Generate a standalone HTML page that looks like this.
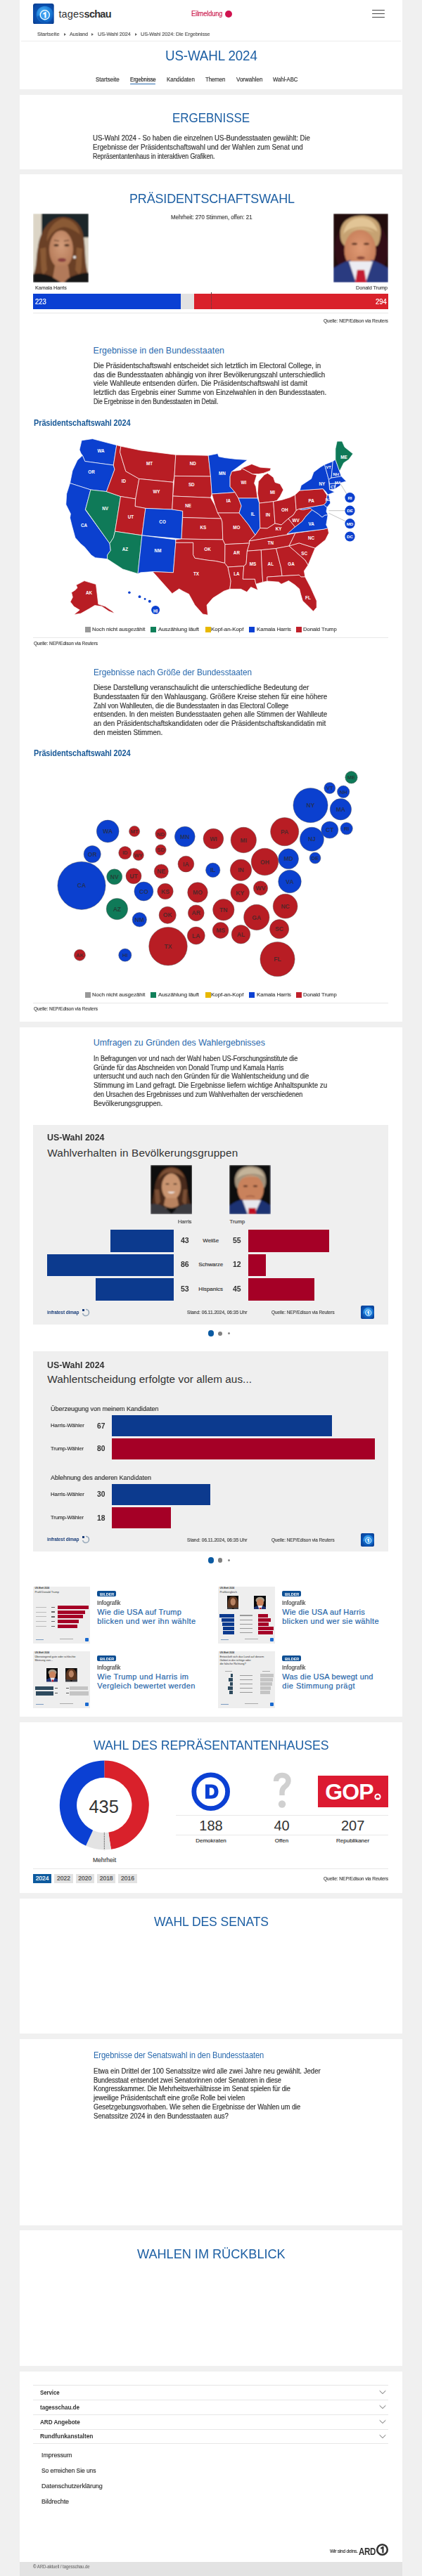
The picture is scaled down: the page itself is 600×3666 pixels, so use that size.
<!DOCTYPE html>
<html><head><meta charset="utf-8"><title>US-Wahl 2024: Die Ergebnisse</title>
<style>
html,body{margin:0;padding:0}
body{width:600px;height:3666px;position:relative;overflow:hidden;background:#f0f0f0;font-family:"Liberation Sans", sans-serif}
span{position:absolute;white-space:nowrap;line-height:1}
.k{-webkit-text-stroke:0.18px currentColor}
svg{position:absolute;display:block}
</style></head><body>
<div style="position:absolute;left:28px;top:0px;width:544px;height:127px;background:#fff;"></div>
<div style="position:absolute;left:28px;top:135px;width:544px;height:106px;background:#fff;"></div>
<div style="position:absolute;left:28px;top:248px;width:544px;height:1206px;background:#fff;"></div>
<div style="position:absolute;left:28px;top:1462px;width:544px;height:981px;background:#fff;"></div>
<div style="position:absolute;left:28px;top:2451px;width:544px;height:243px;background:#fff;"></div>
<div style="position:absolute;left:28px;top:2702px;width:544px;height:192px;background:#fff;"></div>
<div style="position:absolute;left:28px;top:2902px;width:544px;height:265px;background:#fff;"></div>
<div style="position:absolute;left:28px;top:3174px;width:544px;height:193px;background:#fff;"></div>
<div style="position:absolute;left:28px;top:3375px;width:544px;height:271px;background:#fff;"></div>
<div style="position:absolute;left:28px;top:3646px;width:544px;height:20px;background:#e3e3e3;"></div>
<svg style="left:47.2px;top:4.8px" width="29.7" height="29.7" viewBox="0 0 30 30">
<defs><radialGradient id="gh" cx="0.5" cy="0.5" r="0.75"><stop offset="0" stop-color="#0d5cc0"/><stop offset="0.7" stop-color="#0a4aa5"/><stop offset="1" stop-color="#062f78"/></radialGradient>
<radialGradient id="qh" cx="0.4" cy="0.35" r="0.7"><stop offset="0" stop-color="#5cc0ff"/><stop offset="0.6" stop-color="#1f86e0"/><stop offset="1" stop-color="#0b56b8"/></radialGradient></defs>
<rect x="0" y="0" width="30" height="30" rx="3.3" fill="url(#gh)"/>
<circle cx="17" cy="16" r="12.2" fill="url(#qh)" opacity="0.9"/>
<path d="M6 19 C8 25 14 28 20 27 C14 25 10 22 8.5 17 Z" fill="#0a4aa5" opacity="0.6"/>
<circle cx="17" cy="16.4" r="6.8" fill="#3a9ef0"/>
<circle cx="17" cy="16.4" r="6.6" fill="none" stroke="#fff" stroke-width="1.3"/>
<path d="M14.3 14.2 L17.6 12.2 L18.8 12.2 L18.8 20.6 L16.6 20.6 L16.6 15.2 L14.9 16 Z" fill="#fff"/>
</svg>
<span style="left:119.6px;top:12.68px;font-size:14.5px;font-weight:700;color:#333;letter-spacing:-0.75px">schau</span>
<div style="position:absolute;left:319.5px;top:14.7px;width:10px;height:10px;border-radius:50%;background:#d0134f"></div>
<div style="position:absolute;left:529px;top:13.75px;width:17.700000000000045px;height:1.5px;background:#444;border-radius:1px"></div>
<div style="position:absolute;left:529px;top:18.95px;width:17.700000000000045px;height:1.5px;background:#444;border-radius:1px"></div>
<div style="position:absolute;left:529px;top:23.95px;width:17.700000000000045px;height:1.5px;background:#444;border-radius:1px"></div>
<div style="position:absolute;left:91.1px;top:46.5px;width:0;height:0;border-left:3.5px solid #666;border-top:2.5px solid transparent;border-bottom:2.5px solid transparent"></div>
<div style="position:absolute;left:130.0px;top:46.5px;width:0;height:0;border-left:3.5px solid #666;border-top:2.5px solid transparent;border-bottom:2.5px solid transparent"></div>
<div style="position:absolute;left:191.9px;top:46.5px;width:0;height:0;border-left:3.5px solid #666;border-top:2.5px solid transparent;border-bottom:2.5px solid transparent"></div>
<div style="position:absolute;left:30px;top:58px;width:540px;height:1px;background:#ececec;"></div>
<div style="position:absolute;left:184.8px;top:118.7px;width:36.69999999999999px;height:1.5999999999999943px;background:#2a6ab0;border-radius:1px"></div>
<svg style="left:47.4px;top:304px" width="79" height="98" viewBox="0 0 79 98" preserveAspectRatio="none">
<defs><filter id="bh1" x="-5%" y="-5%" width="110%" height="110%"><feGaussianBlur stdDeviation="0.9"/></filter><clipPath id="ch1"><rect width="100" height="100"/></clipPath></defs>
<g filter="url(#bh1)">
<defs><radialGradient id="fh1" cx="0.5" cy="0.4" r="0.6"><stop offset="0" stop-color="#d29c7a"/><stop offset="1" stop-color="#b57a58"/></radialGradient></defs>
<rect width="79" height="98" fill="#dcd5c6"/>
<rect x="12" y="0" width="67" height="34" fill="#1d2729"/>
<path d="M42 5 C58 5 69 15 72 34 C75 52 73 72 79 88 L79 98 L0 98 L0 88 C6 76 4 60 7 48 C10 24 24 5 42 5 Z" fill="#6b4026"/>
<path d="M42 7 C55 8 64 16 67 30 C60 24 52 20 44 19 C34 20 24 28 20 40 C18 30 26 12 42 7Z" fill="#8a5a36"/>
<path d="M10 50 C12 65 10 78 14 88 L20 80 C18 68 19 58 18 48Z M70 50 C68 65 71 78 66 88 L60 80 C62 68 61 58 62 48Z" fill="#8a5a36"/>
<ellipse cx="40" cy="51" rx="17" ry="27" fill="url(#fh1)"/>
<path d="M31 74 L50 74 L53 98 L27 98 Z" fill="#b27a5a"/>
<path d="M0 86 C10 84 22 86 30 92 L40 98 L0 98 Z" fill="#141318"/>
<path d="M79 84 C68 84 58 88 50 92 L44 98 L79 98 Z" fill="#141318"/>
<ellipse cx="33" cy="45" rx="3.5" ry="1.5" fill="#3a2418"/>
<ellipse cx="48" cy="45" rx="3.5" ry="1.5" fill="#3a2418"/>
<path d="M30 38 L37 39 M44 39 L51 38" stroke="#4a2a1a" stroke-width="1.2"/>
<ellipse cx="41" cy="66" rx="6" ry="2.8" fill="#8a4040"/>
<circle cx="59" cy="62" r="2" fill="#eee"/></g></svg>
<svg style="left:474.2px;top:304px" width="78" height="98" viewBox="0 0 78 98" preserveAspectRatio="none">
<defs><filter id="bt1" x="-5%" y="-5%" width="110%" height="110%"><feGaussianBlur stdDeviation="0.9"/></filter><clipPath id="ct1"><rect width="100" height="100"/></clipPath></defs>
<g filter="url(#bt1)">
<defs><radialGradient id="ft1" cx="0.5" cy="0.45" r="0.6"><stop offset="0" stop-color="#e09a74"/><stop offset="1" stop-color="#c27a56"/></radialGradient></defs>
<rect width="78" height="98" fill="#24090f"/>
<ellipse cx="40" cy="50" rx="38" ry="46" fill="#3a1018" opacity="0.7"/>
<path d="M10 32 C8 12 22 3 40 3 C58 3 69 12 67 30 C66 40 64 44 62 46 L16 46 C12 42 10 38 10 32 Z" fill="#c6a272"/>
<path d="M14 30 C20 18 50 14 63 26 C60 12 50 6 40 6 C26 6 16 14 14 30Z" fill="#e2c596"/>
<ellipse cx="38" cy="52" rx="22.5" ry="29" fill="url(#ft1)"/>
<path d="M17 30 C24 22 44 20 58 27 C50 18 30 17 17 30Z" fill="#d8b888"/>
<path d="M0 78 C8 72 18 68 24 66 L40 98 L0 98 Z" fill="#2a3a80"/>
<path d="M78 78 C70 72 60 68 54 66 L40 98 L78 98 Z" fill="#2a3a80"/>
<path d="M22 68 L56 68 L46 98 L32 98 Z" fill="#ececf2"/>
<path d="M34 80 L44 80 L47 98 L31 98 Z" fill="#c41e32"/>
<ellipse cx="30" cy="43" rx="4" ry="1.5" fill="#5a3020"/>
<ellipse cx="47" cy="43" rx="4" ry="1.5" fill="#5a3020"/>
<ellipse cx="39" cy="63" rx="6" ry="2.2" fill="#8a4a3a"/></g></svg>
<div style="position:absolute;left:47px;top:418.3px;width:209.5px;height:21.69999999999999px;background:#0b40d3;"></div>
<div style="position:absolute;left:256.5px;top:418.3px;width:19.69999999999999px;height:21.69999999999999px;background:#e2e2e2;"></div>
<div style="position:absolute;left:276.2px;top:418.3px;width:276.2px;height:21.69999999999999px;background:#d9212b;"></div>
<div style="position:absolute;left:299.5px;top:416px;width:0;height:24px;border-left:1px dotted #444"></div>
<div style="position:absolute;left:47px;top:444.5px;width:505.4px;height:1.0px;background:#e6e6e6;"></div>
<svg style="left:80px;top:615px" width="440" height="270" viewBox="0 0 440 270">
<polygon points="36.1,11.8 51.5,9.5 85.8,18.5 81.3,47.0 40.8,41.5 37.3,33.2 35.0,30.0 33.0,25.0" fill="#0b40cf" stroke="#fff" stroke-width="0.7" stroke-linejoin="round"/>
<polygon points="37.3,33.2 40.8,41.5 81.3,47.0 83.0,53.0 71.4,84.6 48.9,82.0 19.5,72.6 23.0,55.0 30.0,40.0" fill="#0b40cf" stroke="#fff" stroke-width="0.7" stroke-linejoin="round"/>
<polygon points="19.5,72.6 48.9,82.0 41.3,110.5 76.0,158.5 77.3,168.3 72.6,175.0 72.6,180.6 55.5,178.7 49.8,175.0 40.3,163.6 34.6,158.8 27.0,150.3 22.3,133.2 19.5,121.9 20.4,116.2 13.8,102.9 14.7,87.7" fill="#0b40cf" stroke="#fff" stroke-width="0.7" stroke-linejoin="round"/>
<polygon points="48.9,82.0 71.4,84.6 91.5,91.5 83.5,141.2 81.4,150.0 76.0,158.5 41.5,109.9" fill="#0f7a58" stroke="#fff" stroke-width="0.7" stroke-linejoin="round"/>
<polygon points="85.8,18.5 91.8,20.1 90.6,28.4 94.1,40.3 98.9,55.7 117.8,66.4 112.7,95.0 91.5,91.5 71.4,84.6 83.0,53.0 81.3,47.0" fill="#b81d24" stroke="#fff" stroke-width="0.7" stroke-linejoin="round"/>
<polygon points="91.8,20.1 120.0,25.9 169.8,32.2 168.0,62.4 166.4,71.3 117.8,66.4 98.9,55.7 94.1,40.3 90.6,28.4" fill="#b81d24" stroke="#fff" stroke-width="0.7" stroke-linejoin="round"/>
<polygon points="117.8,66.4 166.4,71.3 165.8,91.0 164.8,110.0 126.9,108.4 112.0,105.6 112.7,95.0" fill="#b81d24" stroke="#fff" stroke-width="0.7" stroke-linejoin="round"/>
<polygon points="91.5,91.5 112.7,95.0 112.0,105.6 126.9,108.4 121.9,146.9 83.5,141.2" fill="#b81d24" stroke="#fff" stroke-width="0.7" stroke-linejoin="round"/>
<polygon points="83.5,141.2 121.9,146.9 116.0,201.5 94.6,194.9 72.6,180.6 72.6,175.0 77.3,168.3 76.0,158.5 81.4,150.0" fill="#0f7a58" stroke="#fff" stroke-width="0.7" stroke-linejoin="round"/>
<polygon points="126.9,108.4 164.8,110.0 179.7,112.2 178.0,152.0 121.9,146.9" fill="#0b40cf" stroke="#fff" stroke-width="0.7" stroke-linejoin="round"/>
<polygon points="121.9,146.9 169.8,153.0 169.8,157.3 166.4,199.8 137.0,198.5 120.0,199.8 116.0,201.5" fill="#0b40cf" stroke="#fff" stroke-width="0.7" stroke-linejoin="round"/>
<polygon points="169.8,32.2 216.2,33.2 219.5,63.0 168.0,62.4" fill="#b81d24" stroke="#fff" stroke-width="0.7" stroke-linejoin="round"/>
<polygon points="168.0,62.4 219.5,63.0 221.2,88.0 219.5,93.3 165.8,91.0" fill="#b81d24" stroke="#fff" stroke-width="0.7" stroke-linejoin="round"/>
<polygon points="165.8,91.0 219.5,93.3 226.0,105.0 229.5,115.0 234.5,123.0 179.7,121.5 179.7,112.2 164.8,110.0" fill="#b81d24" stroke="#fff" stroke-width="0.7" stroke-linejoin="round"/>
<polygon points="179.7,121.5 234.5,123.0 236.0,128.0 236.8,153.0 178.0,152.0" fill="#b81d24" stroke="#fff" stroke-width="0.7" stroke-linejoin="round"/>
<polygon points="169.8,153.0 178.0,152.0 236.8,153.0 240.0,159.7 239.7,186.4 226.9,183.5 214.1,182.1 197.0,179.3 194.6,174.6 194.6,157.3 169.8,157.3" fill="#b81d24" stroke="#fff" stroke-width="0.7" stroke-linejoin="round"/>
<polygon points="169.8,157.3 194.6,157.3 194.6,174.6 197.0,179.3 214.1,182.1 226.9,183.5 239.7,186.4 244.0,192.0 248.2,212.0 246.8,223.3 238.3,226.2 222.7,236.1 214.1,246.1 215.5,260.3 208.4,258.9 197.0,246.1 188.5,230.4 180.0,226.2 174.7,223.0 164.8,229.7 151.5,214.8 137.0,198.5 166.4,199.8" fill="#b81d24" stroke="#fff" stroke-width="0.7" stroke-linejoin="round"/>
<polygon points="216.2,33.2 229.5,30.5 231.0,34.8 240.0,36.6 254.2,38.3 272.0,39.5 257.8,50.1 249.5,56.1 247.1,63.2 247.1,77.4 254.2,85.7 221.2,88.0 219.5,63.0" fill="#0b40cf" stroke="#fff" stroke-width="0.7" stroke-linejoin="round"/>
<polygon points="221.2,88.0 254.2,85.7 259.0,94.0 263.2,105.0 260.0,115.0 229.5,115.0 226.0,105.0" fill="#b81d24" stroke="#fff" stroke-width="0.7" stroke-linejoin="round"/>
<polygon points="229.5,115.0 260.0,115.0 273.2,131.5 283.0,146.5 276.0,153.0 274.2,155.0 274.8,158.0 240.0,159.7 236.8,153.0 236.0,128.0 234.5,123.0" fill="#b81d24" stroke="#fff" stroke-width="0.7" stroke-linejoin="round"/>
<polygon points="240.0,159.7 274.8,158.0 271.4,169.2 270.0,187.7 266.7,190.6 244.0,192.0 239.7,186.4" fill="#b81d24" stroke="#fff" stroke-width="0.7" stroke-linejoin="round"/>
<polygon points="244.0,192.0 266.7,190.6 265.3,209.1 282.4,209.1 283.8,216.2 286.6,224.8 276.7,220.5 271.0,227.6 262.5,223.3 246.8,223.3 248.2,212.0" fill="#b81d24" stroke="#fff" stroke-width="0.7" stroke-linejoin="round"/>
<polygon points="249.5,56.1 262.5,53.7 263.7,51.3 279.1,59.6 285.0,61.0 281.5,72.7 283.8,77.4 286.2,94.0 259.0,94.0 254.2,85.7 247.1,77.4 247.1,63.2" fill="#b81d24" stroke="#fff" stroke-width="0.7" stroke-linejoin="round"/>
<polygon points="263.7,51.3 277.9,45.4 289.8,50.1 305.2,51.3 304.0,54.9 294.5,58.4 287.4,59.6 279.1,59.6" fill="#b81d24" stroke="#fff" stroke-width="0.7" stroke-linejoin="round"/>
<polygon points="288.6,101.1 286.2,86.9 287.4,70.3 295.7,60.8 300.4,58.4 304.0,60.8 308.7,64.4 311.1,71.5 318.2,73.8 322.9,82.1 318.2,91.6 313.5,97.5 308.7,98.7" fill="#b81d24" stroke="#fff" stroke-width="0.7" stroke-linejoin="round"/>
<polygon points="259.0,94.0 286.2,94.0 288.6,101.1 289.8,136.5 283.0,146.5 273.2,131.5 260.0,115.0 263.2,105.0" fill="#0b40cf" stroke="#fff" stroke-width="0.7" stroke-linejoin="round"/>
<polygon points="288.6,101.1 308.7,98.7 311.0,130.0 300.0,137.0 289.8,136.5" fill="#b81d24" stroke="#fff" stroke-width="0.7" stroke-linejoin="round"/>
<polygon points="308.7,98.7 320.6,96.4 332.4,92.8 339.5,89.2 341.2,111.3 337.0,118.0 330.0,123.0 320.0,132.0 311.0,130.0" fill="#b81d24" stroke="#fff" stroke-width="0.7" stroke-linejoin="round"/>
<polygon points="283.0,146.5 289.8,136.5 300.0,137.0 311.0,130.0 320.0,132.0 330.0,123.0 339.5,134.9 328.0,146.0 274.2,155.0 276.0,153.0" fill="#b81d24" stroke="#fff" stroke-width="0.7" stroke-linejoin="round"/>
<polygon points="274.2,155.0 328.0,146.0 340.0,143.5 331.0,162.0 312.6,165.5 291.3,167.7 271.4,169.2 274.8,158.0" fill="#b81d24" stroke="#fff" stroke-width="0.7" stroke-linejoin="round"/>
<polygon points="271.4,169.2 291.3,167.7 292.5,195.0 293.7,213.4 283.8,216.2 282.4,209.1 265.3,209.1 266.7,190.6 270.0,187.7" fill="#b81d24" stroke="#fff" stroke-width="0.7" stroke-linejoin="round"/>
<polygon points="291.3,167.7 312.6,165.5 319.7,193.3 321.1,204.7 299.8,206.1 300.0,212.0 293.7,213.4 292.5,195.0" fill="#b81d24" stroke="#fff" stroke-width="0.7" stroke-linejoin="round"/>
<polygon points="312.6,165.5 331.0,162.0 353.8,182.0 358.1,189.0 352.4,197.6 353.8,206.0 348.1,206.1 345.3,203.3 321.1,204.7 319.7,193.3" fill="#b81d24" stroke="#fff" stroke-width="0.7" stroke-linejoin="round"/>
<polygon points="299.8,206.1 321.1,204.7 345.3,203.3 348.1,206.1 353.8,206.0 361.7,221.0 370.2,240.0 370.2,249.5 365.5,255.0 358.0,247.6 350.3,240.0 347.5,230.5 345.6,223.0 339.0,217.2 330.4,211.5 320.0,216.3 316.2,213.2 300.0,212.0" fill="#b81d24" stroke="#fff" stroke-width="0.7" stroke-linejoin="round"/>
<polygon points="331.0,162.0 345.3,157.8 368.0,165.0 358.1,189.0 353.8,182.0" fill="#b81d24" stroke="#fff" stroke-width="0.7" stroke-linejoin="round"/>
<polygon points="340.0,143.5 380.0,138.2 386.2,136.6 387.4,143.7 382.7,153.2 368.0,165.0 345.3,157.8 331.0,162.0" fill="#b81d24" stroke="#fff" stroke-width="0.7" stroke-linejoin="round"/>
<polygon points="328.0,145.0 339.5,134.9 349.5,127.0 354.5,120.0 363.7,110.5 372.0,116.0 378.0,121.0 382.0,118.0 386.2,117.7 383.8,131.9 386.2,136.6 380.0,138.2 340.0,143.0" fill="#0b40cf" stroke="#fff" stroke-width="0.7" stroke-linejoin="round"/>
<polygon points="341.2,111.3 344.7,109.4 350.7,110.5 361.3,108.2 363.7,110.5 354.5,120.0 349.5,127.0 339.5,134.9 330.0,123.0 337.0,118.0" fill="#b81d24" stroke="#fff" stroke-width="0.7" stroke-linejoin="round"/>
<polygon points="344.7,109.4 380.3,103.4 385.0,107.0 384.0,113.0 386.2,117.7 382.0,118.0 378.0,121.0 372.0,116.0 363.7,110.5 361.3,108.2 350.7,110.5" fill="#0b40cf" stroke="#fff" stroke-width="0.7" stroke-linejoin="round"/>
<polygon points="339.5,89.2 346.2,83.0 379.0,80.6 385.0,90.0 383.8,100.0 380.3,103.4 344.7,109.4 341.2,111.3" fill="#b81d24" stroke="#fff" stroke-width="0.7" stroke-linejoin="round"/>
<polygon points="385.0,90.0 387.4,89.2 389.8,101.0 385.0,107.0 380.3,103.4 383.8,100.0" fill="#0b40cf" stroke="#fff" stroke-width="0.7" stroke-linejoin="round"/>
<polygon points="346.2,83.0 348.3,75.8 362.5,66.4 366.0,56.9 375.5,49.8 381.5,46.2 387.4,67.5 388.6,81.8 395.7,85.3 386.2,89.0 382.7,84.0 379.0,80.6" fill="#0b40cf" stroke="#fff" stroke-width="0.7" stroke-linejoin="round"/>
<polygon points="381.5,46.2 393.3,41.5 391.0,65.2 387.4,67.5" fill="#0b40cf" stroke="#fff" stroke-width="0.7" stroke-linejoin="round"/>
<polygon points="393.3,41.5 396.9,39.1 402.8,55.7 405.2,62.8 391.0,65.2" fill="#0b40cf" stroke="#fff" stroke-width="0.7" stroke-linejoin="round"/>
<polygon points="396.9,39.1 396.9,23.7 399.2,13.0 406.4,13.0 410.0,21.3 421.8,30.8 415.8,39.1 408.7,43.8 402.8,55.7" fill="#0f7a58" stroke="#fff" stroke-width="0.7" stroke-linejoin="round"/>
<polygon points="387.4,67.5 391.0,65.2 405.2,62.8 412.3,69.9 404.0,72.3 397.0,73.0 388.6,73.5" fill="#0b40cf" stroke="#fff" stroke-width="0.7" stroke-linejoin="round"/>
<polygon points="388.6,73.5 397.0,73.0 396.0,81.0 388.6,81.8" fill="#0b40cf" stroke="#fff" stroke-width="0.7" stroke-linejoin="round"/>
<polygon points="397.0,73.0 404.0,72.3 404.0,75.8 396.0,81.0" fill="#0b40cf" stroke="#fff" stroke-width="0.7" stroke-linejoin="round"/>
<polygon points="28.3,217.6 39.9,211.6 56.5,216.6 59.8,244.8 69.7,248.1 79.7,254.8 83.0,258.1 74.7,254.8 64.8,248.1 54.8,246.5 46.5,251.5 34.9,258.1 25.0,259.7 33.2,253.1 25.0,248.1 20.0,241.5 23.3,234.9 21.6,228.2 26.6,224.9 30.0,221.6" fill="#b81d24" stroke="#fff" stroke-width="0.7" stroke-linejoin="round"/>
<circle cx="103.9" cy="228.20000000000005" r="1.8" fill="#0b40cf"/>
<circle cx="118.5" cy="234.20000000000005" r="1.9" fill="#0b40cf"/>
<circle cx="126.1" cy="237.5" r="1.4" fill="#0b40cf"/>
<circle cx="132.8" cy="240.79999999999995" r="2" fill="#0b40cf"/>
<circle cx="141.1" cy="253.10000000000002" r="6" fill="#0b40cf"/>
<path d="M404,73.5 L413.5,88.89999999999998 M387.4,111.70000000000005 L410.4,111.70000000000005 M387.4,115.29999999999995 L411,126.70000000000005" stroke="#999" stroke-width="0.6" fill="none"/>
<circle cx="417.5" cy="93.20000000000005" r="7.1" fill="#0b40cf"/>
<text x="417.5" y="95.50000000000004" font-size="6.2" font-weight="700" fill="#fff" text-anchor="middle" font-family="Liberation Sans">RI</text>
<circle cx="417.5" cy="111.70000000000005" r="7.1" fill="#0b40cf"/>
<text x="417.5" y="114.00000000000004" font-size="6.2" font-weight="700" fill="#fff" text-anchor="middle" font-family="Liberation Sans">DE</text>
<circle cx="417.5" cy="130.20000000000005" r="7.1" fill="#0b40cf"/>
<text x="417.5" y="132.50000000000006" font-size="6.2" font-weight="700" fill="#fff" text-anchor="middle" font-family="Liberation Sans">MD</text>
<circle cx="417.5" cy="148.5" r="7.1" fill="#0b40cf"/>
<text x="417.5" y="150.8" font-size="6.2" font-weight="700" fill="#fff" text-anchor="middle" font-family="Liberation Sans">DC</text>
<text x="63.5" y="28.7" font-size="6.3" font-weight="700" fill="#fff" text-anchor="middle" font-family="Liberation Sans">WA</text>
<text x="50" y="58.99999999999996" font-size="6.3" font-weight="700" fill="#fff" text-anchor="middle" font-family="Liberation Sans">OR</text>
<text x="39.599999999999994" y="134.59999999999997" font-size="6.3" font-weight="700" fill="#fff" text-anchor="middle" font-family="Liberation Sans">CA</text>
<text x="69.5" y="111.30000000000003" font-size="6.3" font-weight="700" fill="#fff" text-anchor="middle" font-family="Liberation Sans">NV</text>
<text x="96" y="72.2" font-size="6.3" font-weight="700" fill="#fff" text-anchor="middle" font-family="Liberation Sans">ID</text>
<text x="132.5" y="46.99999999999996" font-size="6.3" font-weight="700" fill="#fff" text-anchor="middle" font-family="Liberation Sans">MT</text>
<text x="142.5" y="86.80000000000003" font-size="6.3" font-weight="700" fill="#fff" text-anchor="middle" font-family="Liberation Sans">WY</text>
<text x="106" y="123.30000000000003" font-size="6.3" font-weight="700" fill="#fff" text-anchor="middle" font-family="Liberation Sans">UT</text>
<text x="151.1" y="129.90000000000003" font-size="6.3" font-weight="700" fill="#fff" text-anchor="middle" font-family="Liberation Sans">CO</text>
<text x="98" y="168.7" font-size="6.3" font-weight="700" fill="#fff" text-anchor="middle" font-family="Liberation Sans">AZ</text>
<text x="144.5" y="171.40000000000003" font-size="6.3" font-weight="700" fill="#fff" text-anchor="middle" font-family="Liberation Sans">NM</text>
<text x="194.2" y="46.99999999999996" font-size="6.3" font-weight="700" fill="#fff" text-anchor="middle" font-family="Liberation Sans">ND</text>
<text x="192.3" y="76.80000000000003" font-size="6.3" font-weight="700" fill="#fff" text-anchor="middle" font-family="Liberation Sans">SD</text>
<text x="187.60000000000002" y="106.7" font-size="6.3" font-weight="700" fill="#fff" text-anchor="middle" font-family="Liberation Sans">NE</text>
<text x="208.8" y="137.90000000000003" font-size="6.3" font-weight="700" fill="#fff" text-anchor="middle" font-family="Liberation Sans">KS</text>
<text x="215" y="168.7" font-size="6.3" font-weight="700" fill="#fff" text-anchor="middle" font-family="Liberation Sans">OK</text>
<text x="198.89999999999998" y="203.59999999999997" font-size="6.3" font-weight="700" fill="#fff" text-anchor="middle" font-family="Liberation Sans">TX</text>
<text x="235.8" y="60.7" font-size="6.3" font-weight="700" fill="#fff" text-anchor="middle" font-family="Liberation Sans">MN</text>
<text x="245" y="100.09999999999998" font-size="6.3" font-weight="700" fill="#fff" text-anchor="middle" font-family="Liberation Sans">IA</text>
<text x="256.4" y="137.90000000000003" font-size="6.3" font-weight="700" fill="#fff" text-anchor="middle" font-family="Liberation Sans">MO</text>
<text x="256.4" y="173.7" font-size="6.3" font-weight="700" fill="#fff" text-anchor="middle" font-family="Liberation Sans">AR</text>
<text x="256.4" y="203.59999999999997" font-size="6.3" font-weight="700" fill="#fff" text-anchor="middle" font-family="Liberation Sans">LA</text>
<text x="266.4" y="73.49999999999996" font-size="6.3" font-weight="700" fill="#fff" text-anchor="middle" font-family="Liberation Sans">WI</text>
<text x="307.5" y="88.09999999999998" font-size="6.3" font-weight="700" fill="#fff" text-anchor="middle" font-family="Liberation Sans">MI</text>
<text x="279.6" y="118.59999999999998" font-size="6.3" font-weight="700" fill="#fff" text-anchor="middle" font-family="Liberation Sans">IL</text>
<text x="300.9" y="119.99999999999996" font-size="6.3" font-weight="700" fill="#fff" text-anchor="middle" font-family="Liberation Sans">IN</text>
<text x="324.8" y="113.30000000000003" font-size="6.3" font-weight="700" fill="#fff" text-anchor="middle" font-family="Liberation Sans">OH</text>
<text x="316.1" y="139.90000000000003" font-size="6.3" font-weight="700" fill="#fff" text-anchor="middle" font-family="Liberation Sans">KY</text>
<text x="304.8" y="159.49999999999994" font-size="6.3" font-weight="700" fill="#fff" text-anchor="middle" font-family="Liberation Sans">TN</text>
<text x="279.6" y="190.3" font-size="6.3" font-weight="700" fill="#fff" text-anchor="middle" font-family="Liberation Sans">MS</text>
<text x="304.8" y="190.3" font-size="6.3" font-weight="700" fill="#fff" text-anchor="middle" font-family="Liberation Sans">AL</text>
<text x="334" y="190.3" font-size="6.3" font-weight="700" fill="#fff" text-anchor="middle" font-family="Liberation Sans">GA</text>
<text x="352.6" y="175.09999999999997" font-size="6.3" font-weight="700" fill="#fff" text-anchor="middle" font-family="Liberation Sans">SC</text>
<text x="362.6" y="152.99999999999994" font-size="6.3" font-weight="700" fill="#fff" text-anchor="middle" font-family="Liberation Sans">NC</text>
<text x="362.6" y="133.2" font-size="6.3" font-weight="700" fill="#fff" text-anchor="middle" font-family="Liberation Sans">VA</text>
<text x="340.7" y="127.90000000000005" font-size="6.3" font-weight="700" fill="#fff" text-anchor="middle" font-family="Liberation Sans">WV</text>
<text x="362.6" y="100.09999999999998" font-size="6.3" font-weight="700" fill="#fff" text-anchor="middle" font-family="Liberation Sans">PA</text>
<text x="377.8" y="75.49999999999996" font-size="6.3" font-weight="700" fill="#fff" text-anchor="middle" font-family="Liberation Sans">NY</text>
<text x="357.9" y="238.09999999999997" font-size="6.3" font-weight="700" fill="#fff" text-anchor="middle" font-family="Liberation Sans">FL</text>
<text x="46.5" y="231.09999999999997" font-size="6.3" font-weight="700" fill="#fff" text-anchor="middle" font-family="Liberation Sans">AK</text>
<text x="141.1" y="256.99999999999994" font-size="6.3" font-weight="700" fill="#fff" text-anchor="middle" font-family="Liberation Sans">HI</text>
<text x="409" y="38.300000000000026" font-size="6.3" font-weight="700" fill="#fff" text-anchor="middle" font-family="Liberation Sans">ME</text>
<text x="387.1" y="51.59999999999998" font-size="5.8" font-weight="700" fill="#fff" text-anchor="middle" font-family="Liberation Sans">VT</text>
<text x="397.7" y="61.59999999999998" font-size="5.8" font-weight="700" fill="#fff" text-anchor="middle" font-family="Liberation Sans">NH</text>
<text x="400.4" y="73.49999999999996" font-size="5.8" font-weight="700" fill="#fff" text-anchor="middle" font-family="Liberation Sans">MA</text>
<text x="393.8" y="80.2" font-size="5.8" font-weight="700" fill="#fff" text-anchor="middle" font-family="Liberation Sans">CT</text>
<text x="386.5" y="98.2" font-size="5.8" font-weight="700" fill="#fff" text-anchor="middle" font-family="Liberation Sans">NJ</text>
</svg>
<div style="position:absolute;left:120.5px;top:892.2px;width:8.0px;height:8.0px;background:#999;"></div>
<div style="position:absolute;left:214.2px;top:892.2px;width:8.0px;height:8.0px;background:#10805a;"></div>
<div style="position:absolute;left:292px;top:892.2px;width:8px;height:8.0px;background:#e8b800;"></div>
<div style="position:absolute;left:354px;top:892.2px;width:8px;height:8.0px;background:#0b40d3;"></div>
<div style="position:absolute;left:421px;top:892.2px;width:8px;height:8.0px;background:#c0202a;"></div>
<div style="position:absolute;left:47px;top:907.2px;width:505px;height:1.0px;background:#e8e8e8;"></div>
<svg style="left:80px;top:1085px" width="440" height="310" viewBox="0 0 440 310">
<circle cx="73.2" cy="98.0" r="15.9" fill="#0b40cf" stroke="#555" stroke-opacity="0.55" stroke-width="0.8"/>
<circle cx="111.1" cy="98.0" r="7.6" fill="#b81d24" stroke="#555" stroke-opacity="0.55" stroke-width="0.8"/>
<circle cx="148.6" cy="101.8" r="7.8" fill="#b81d24" stroke="#555" stroke-opacity="0.55" stroke-width="0.8"/>
<circle cx="51.2" cy="130.6" r="12.1" fill="#0b40cf" stroke="#555" stroke-opacity="0.55" stroke-width="0.8"/>
<circle cx="97.8" cy="128.7" r="9.1" fill="#b81d24" stroke="#555" stroke-opacity="0.55" stroke-width="0.8"/>
<circle cx="116.8" cy="132.0" r="7.6" fill="#b81d24" stroke="#555" stroke-opacity="0.55" stroke-width="0.8"/>
<circle cx="148.6" cy="124.5" r="7.6" fill="#b81d24" stroke="#555" stroke-opacity="0.55" stroke-width="0.8"/>
<circle cx="36.0" cy="175.3" r="34.1" fill="#0b40cf" stroke="#555" stroke-opacity="0.55" stroke-width="0.8"/>
<circle cx="82.7" cy="162.8" r="11" fill="#0f7a58" stroke="#555" stroke-opacity="0.55" stroke-width="0.8"/>
<circle cx="110.0" cy="161.7" r="11" fill="#b81d24" stroke="#555" stroke-opacity="0.55" stroke-width="0.8"/>
<circle cx="149.3" cy="155.0" r="10.1" fill="#b81d24" stroke="#555" stroke-opacity="0.55" stroke-width="0.8"/>
<circle cx="124.4" cy="183.5" r="13.5" fill="#0b40cf" stroke="#555" stroke-opacity="0.55" stroke-width="0.8"/>
<circle cx="86.4" cy="208.6" r="15.2" fill="#0f7a58" stroke="#555" stroke-opacity="0.55" stroke-width="0.8"/>
<circle cx="118.3" cy="223.8" r="10.2" fill="#0b40cf" stroke="#555" stroke-opacity="0.55" stroke-width="0.8"/>
<circle cx="33.4" cy="274.2" r="8" fill="#b81d24" stroke="#555" stroke-opacity="0.55" stroke-width="0.8"/>
<circle cx="97.8" cy="274.2" r="9.1" fill="#0b40cf" stroke="#555" stroke-opacity="0.55" stroke-width="0.8"/>
<circle cx="182.8" cy="105.6" r="14.4" fill="#0b40cf" stroke="#555" stroke-opacity="0.55" stroke-width="0.8"/>
<circle cx="223.4" cy="108.6" r="14.4" fill="#b81d24" stroke="#555" stroke-opacity="0.55" stroke-width="0.8"/>
<circle cx="266.3" cy="110.5" r="18.2" fill="#b81d24" stroke="#555" stroke-opacity="0.55" stroke-width="0.8"/>
<circle cx="184.4" cy="144.6" r="11.4" fill="#b81d24" stroke="#555" stroke-opacity="0.55" stroke-width="0.8"/>
<circle cx="222.7" cy="153.3" r="10.2" fill="#0b40cf" stroke="#555" stroke-opacity="0.55" stroke-width="0.8"/>
<circle cx="262.5" cy="153.3" r="15.2" fill="#b81d24" stroke="#555" stroke-opacity="0.55" stroke-width="0.8"/>
<circle cx="296.5" cy="141.5" r="19.3" fill="#b81d24" stroke="#555" stroke-opacity="0.55" stroke-width="0.8"/>
<circle cx="155.0" cy="183.5" r="11.2" fill="#b81d24" stroke="#555" stroke-opacity="0.55" stroke-width="0.8"/>
<circle cx="201.0" cy="185.0" r="14.3" fill="#b81d24" stroke="#555" stroke-opacity="0.55" stroke-width="0.8"/>
<circle cx="261.3" cy="185.5" r="13.3" fill="#b81d24" stroke="#555" stroke-opacity="0.55" stroke-width="0.8"/>
<circle cx="290.5" cy="179.0" r="10.2" fill="#b81d24" stroke="#555" stroke-opacity="0.55" stroke-width="0.8"/>
<circle cx="158.2" cy="217.3" r="12.1" fill="#b81d24" stroke="#555" stroke-opacity="0.55" stroke-width="0.8"/>
<circle cx="198.8" cy="214.3" r="11.4" fill="#b81d24" stroke="#555" stroke-opacity="0.55" stroke-width="0.8"/>
<circle cx="237.8" cy="209.7" r="15.2" fill="#b81d24" stroke="#555" stroke-opacity="0.55" stroke-width="0.8"/>
<circle cx="284.8" cy="220.5" r="18.2" fill="#b81d24" stroke="#555" stroke-opacity="0.55" stroke-width="0.8"/>
<circle cx="159.0" cy="261.7" r="27.3" fill="#b81d24" stroke="#555" stroke-opacity="0.55" stroke-width="0.8"/>
<circle cx="198.8" cy="246.5" r="12.5" fill="#b81d24" stroke="#555" stroke-opacity="0.55" stroke-width="0.8"/>
<circle cx="233.6" cy="239.0" r="11.4" fill="#b81d24" stroke="#555" stroke-opacity="0.55" stroke-width="0.8"/>
<circle cx="262.5" cy="244.7" r="13.3" fill="#b81d24" stroke="#555" stroke-opacity="0.55" stroke-width="0.8"/>
<circle cx="317.1" cy="237.2" r="13.6" fill="#b81d24" stroke="#555" stroke-opacity="0.55" stroke-width="0.8"/>
<circle cx="314.5" cy="280.0" r="24.6" fill="#b81d24" stroke="#555" stroke-opacity="0.55" stroke-width="0.8"/>
<circle cx="325.6" cy="204.7" r="17.4" fill="#b81d24" stroke="#555" stroke-opacity="0.55" stroke-width="0.8"/>
<circle cx="332.0" cy="169.5" r="16.3" fill="#0b40cf" stroke="#555" stroke-opacity="0.55" stroke-width="0.8"/>
<circle cx="330.1" cy="137.2" r="14.4" fill="#0b40cf" stroke="#555" stroke-opacity="0.55" stroke-width="0.8"/>
<circle cx="368.0" cy="136.1" r="8" fill="#0b40cf" stroke="#555" stroke-opacity="0.55" stroke-width="0.8"/>
<circle cx="419.5" cy="21.3" r="8.7" fill="#0f7a58" stroke="#555" stroke-opacity="0.55" stroke-width="0.8"/>
<circle cx="388.8" cy="36.5" r="8" fill="#0b40cf" stroke="#555" stroke-opacity="0.55" stroke-width="0.8"/>
<circle cx="408.2" cy="41.8" r="8.7" fill="#0b40cf" stroke="#555" stroke-opacity="0.55" stroke-width="0.8"/>
<circle cx="361.5" cy="61.1" r="24.6" fill="#0b40cf" stroke="#555" stroke-opacity="0.55" stroke-width="0.8"/>
<circle cx="404.4" cy="66.8" r="15.2" fill="#0b40cf" stroke="#555" stroke-opacity="0.55" stroke-width="0.8"/>
<circle cx="324.7" cy="98.6" r="20.1" fill="#b81d24" stroke="#555" stroke-opacity="0.55" stroke-width="0.8"/>
<circle cx="363.4" cy="109.3" r="17" fill="#0b40cf" stroke="#555" stroke-opacity="0.55" stroke-width="0.8"/>
<circle cx="388.8" cy="96.0" r="12.1" fill="#0b40cf" stroke="#555" stroke-opacity="0.55" stroke-width="0.8"/>
<circle cx="412.7" cy="94.1" r="8.7" fill="#0b40cf" stroke="#555" stroke-opacity="0.55" stroke-width="0.8"/>
<text x="73.2" y="101.1" font-size="8.6" font-weight="700" fill="#2a2a2a" fill-opacity="0.72" text-anchor="middle" font-family="Liberation Sans">WA</text>
<text x="111.1" y="100.7" font-size="7.6" font-weight="700" fill="#2a2a2a" fill-opacity="0.72" text-anchor="middle" font-family="Liberation Sans">MT</text>
<text x="148.6" y="104.5" font-size="7.6" font-weight="700" fill="#2a2a2a" fill-opacity="0.72" text-anchor="middle" font-family="Liberation Sans">ND</text>
<text x="51.2" y="133.7" font-size="8.6" font-weight="700" fill="#2a2a2a" fill-opacity="0.72" text-anchor="middle" font-family="Liberation Sans">OR</text>
<text x="97.8" y="131.4" font-size="7.6" font-weight="700" fill="#2a2a2a" fill-opacity="0.72" text-anchor="middle" font-family="Liberation Sans">ID</text>
<text x="116.8" y="134.7" font-size="7.6" font-weight="700" fill="#2a2a2a" fill-opacity="0.72" text-anchor="middle" font-family="Liberation Sans">WY</text>
<text x="148.6" y="127.2" font-size="7.6" font-weight="700" fill="#2a2a2a" fill-opacity="0.72" text-anchor="middle" font-family="Liberation Sans">SD</text>
<text x="36.0" y="178.4" font-size="8.6" font-weight="700" fill="#2a2a2a" fill-opacity="0.72" text-anchor="middle" font-family="Liberation Sans">CA</text>
<text x="82.7" y="165.9" font-size="8.6" font-weight="700" fill="#2a2a2a" fill-opacity="0.72" text-anchor="middle" font-family="Liberation Sans">NV</text>
<text x="110.0" y="164.8" font-size="8.6" font-weight="700" fill="#2a2a2a" fill-opacity="0.72" text-anchor="middle" font-family="Liberation Sans">UT</text>
<text x="149.3" y="158.1" font-size="8.6" font-weight="700" fill="#2a2a2a" fill-opacity="0.72" text-anchor="middle" font-family="Liberation Sans">NE</text>
<text x="124.4" y="186.6" font-size="8.6" font-weight="700" fill="#2a2a2a" fill-opacity="0.72" text-anchor="middle" font-family="Liberation Sans">CO</text>
<text x="86.4" y="211.7" font-size="8.6" font-weight="700" fill="#2a2a2a" fill-opacity="0.72" text-anchor="middle" font-family="Liberation Sans">AZ</text>
<text x="118.3" y="226.9" font-size="8.6" font-weight="700" fill="#2a2a2a" fill-opacity="0.72" text-anchor="middle" font-family="Liberation Sans">NM</text>
<text x="33.4" y="276.9" font-size="7.6" font-weight="700" fill="#2a2a2a" fill-opacity="0.72" text-anchor="middle" font-family="Liberation Sans">AK</text>
<text x="97.8" y="276.9" font-size="7.6" font-weight="700" fill="#2a2a2a" fill-opacity="0.72" text-anchor="middle" font-family="Liberation Sans">HI</text>
<text x="182.8" y="108.7" font-size="8.6" font-weight="700" fill="#2a2a2a" fill-opacity="0.72" text-anchor="middle" font-family="Liberation Sans">MN</text>
<text x="223.4" y="111.7" font-size="8.6" font-weight="700" fill="#2a2a2a" fill-opacity="0.72" text-anchor="middle" font-family="Liberation Sans">WI</text>
<text x="266.3" y="113.6" font-size="8.6" font-weight="700" fill="#2a2a2a" fill-opacity="0.72" text-anchor="middle" font-family="Liberation Sans">MI</text>
<text x="184.4" y="147.7" font-size="8.6" font-weight="700" fill="#2a2a2a" fill-opacity="0.72" text-anchor="middle" font-family="Liberation Sans">IA</text>
<text x="222.7" y="156.4" font-size="8.6" font-weight="700" fill="#2a2a2a" fill-opacity="0.72" text-anchor="middle" font-family="Liberation Sans">IL</text>
<text x="262.5" y="156.4" font-size="8.6" font-weight="700" fill="#2a2a2a" fill-opacity="0.72" text-anchor="middle" font-family="Liberation Sans">IN</text>
<text x="296.5" y="144.6" font-size="8.6" font-weight="700" fill="#2a2a2a" fill-opacity="0.72" text-anchor="middle" font-family="Liberation Sans">OH</text>
<text x="155.0" y="186.6" font-size="8.6" font-weight="700" fill="#2a2a2a" fill-opacity="0.72" text-anchor="middle" font-family="Liberation Sans">KS</text>
<text x="201.0" y="188.1" font-size="8.6" font-weight="700" fill="#2a2a2a" fill-opacity="0.72" text-anchor="middle" font-family="Liberation Sans">MO</text>
<text x="261.3" y="188.6" font-size="8.6" font-weight="700" fill="#2a2a2a" fill-opacity="0.72" text-anchor="middle" font-family="Liberation Sans">KY</text>
<text x="290.5" y="182.1" font-size="8.6" font-weight="700" fill="#2a2a2a" fill-opacity="0.72" text-anchor="middle" font-family="Liberation Sans">WV</text>
<text x="158.2" y="220.4" font-size="8.6" font-weight="700" fill="#2a2a2a" fill-opacity="0.72" text-anchor="middle" font-family="Liberation Sans">OK</text>
<text x="198.8" y="217.4" font-size="8.6" font-weight="700" fill="#2a2a2a" fill-opacity="0.72" text-anchor="middle" font-family="Liberation Sans">AR</text>
<text x="237.8" y="212.8" font-size="8.6" font-weight="700" fill="#2a2a2a" fill-opacity="0.72" text-anchor="middle" font-family="Liberation Sans">TN</text>
<text x="284.8" y="223.6" font-size="8.6" font-weight="700" fill="#2a2a2a" fill-opacity="0.72" text-anchor="middle" font-family="Liberation Sans">GA</text>
<text x="159.0" y="264.8" font-size="8.6" font-weight="700" fill="#2a2a2a" fill-opacity="0.72" text-anchor="middle" font-family="Liberation Sans">TX</text>
<text x="198.8" y="249.6" font-size="8.6" font-weight="700" fill="#2a2a2a" fill-opacity="0.72" text-anchor="middle" font-family="Liberation Sans">LA</text>
<text x="233.6" y="242.1" font-size="8.6" font-weight="700" fill="#2a2a2a" fill-opacity="0.72" text-anchor="middle" font-family="Liberation Sans">MS</text>
<text x="262.5" y="247.8" font-size="8.6" font-weight="700" fill="#2a2a2a" fill-opacity="0.72" text-anchor="middle" font-family="Liberation Sans">AL</text>
<text x="317.1" y="240.3" font-size="8.6" font-weight="700" fill="#2a2a2a" fill-opacity="0.72" text-anchor="middle" font-family="Liberation Sans">SC</text>
<text x="314.5" y="283.1" font-size="8.6" font-weight="700" fill="#2a2a2a" fill-opacity="0.72" text-anchor="middle" font-family="Liberation Sans">FL</text>
<text x="325.6" y="207.8" font-size="8.6" font-weight="700" fill="#2a2a2a" fill-opacity="0.72" text-anchor="middle" font-family="Liberation Sans">NC</text>
<text x="332.0" y="172.6" font-size="8.6" font-weight="700" fill="#2a2a2a" fill-opacity="0.72" text-anchor="middle" font-family="Liberation Sans">VA</text>
<text x="330.1" y="140.3" font-size="8.6" font-weight="700" fill="#2a2a2a" fill-opacity="0.72" text-anchor="middle" font-family="Liberation Sans">MD</text>
<text x="368.0" y="138.8" font-size="7.6" font-weight="700" fill="#2a2a2a" fill-opacity="0.72" text-anchor="middle" font-family="Liberation Sans">DE</text>
<text x="419.5" y="24.0" font-size="7.6" font-weight="700" fill="#2a2a2a" fill-opacity="0.72" text-anchor="middle" font-family="Liberation Sans">ME</text>
<text x="388.8" y="39.2" font-size="7.6" font-weight="700" fill="#2a2a2a" fill-opacity="0.72" text-anchor="middle" font-family="Liberation Sans">VT</text>
<text x="408.2" y="44.5" font-size="7.6" font-weight="700" fill="#2a2a2a" fill-opacity="0.72" text-anchor="middle" font-family="Liberation Sans">NH</text>
<text x="361.5" y="64.2" font-size="8.6" font-weight="700" fill="#2a2a2a" fill-opacity="0.72" text-anchor="middle" font-family="Liberation Sans">NY</text>
<text x="404.4" y="69.9" font-size="8.6" font-weight="700" fill="#2a2a2a" fill-opacity="0.72" text-anchor="middle" font-family="Liberation Sans">MA</text>
<text x="324.7" y="101.7" font-size="8.6" font-weight="700" fill="#2a2a2a" fill-opacity="0.72" text-anchor="middle" font-family="Liberation Sans">PA</text>
<text x="363.4" y="112.4" font-size="8.6" font-weight="700" fill="#2a2a2a" fill-opacity="0.72" text-anchor="middle" font-family="Liberation Sans">NJ</text>
<text x="388.8" y="99.1" font-size="8.6" font-weight="700" fill="#2a2a2a" fill-opacity="0.72" text-anchor="middle" font-family="Liberation Sans">CT</text>
<text x="412.7" y="96.8" font-size="7.6" font-weight="700" fill="#2a2a2a" fill-opacity="0.72" text-anchor="middle" font-family="Liberation Sans">RI</text>
</svg>
<div style="position:absolute;left:120.5px;top:1412.2px;width:8.0px;height:8.0px;background:#999;"></div>
<div style="position:absolute;left:214.2px;top:1412.2px;width:8.0px;height:8.0px;background:#10805a;"></div>
<div style="position:absolute;left:292px;top:1412.2px;width:8px;height:8.0px;background:#e8b800;"></div>
<div style="position:absolute;left:354px;top:1412.2px;width:8px;height:8.0px;background:#0b40d3;"></div>
<div style="position:absolute;left:421px;top:1412.2px;width:8px;height:8.0px;background:#c0202a;"></div>
<div style="position:absolute;left:47px;top:1427.2px;width:505px;height:1.0px;background:#e8e8e8;"></div>
<div style="position:absolute;left:46.8px;top:1600.6px;width:505.59999999999997px;height:284.4000000000001px;background:#efefef;"></div>
<svg style="left:214.1px;top:1658.3px" width="59.4" height="69.7" viewBox="0 0 59.4 69.7" preserveAspectRatio="none">
<defs><filter id="bh2" x="-5%" y="-5%" width="110%" height="110%"><feGaussianBlur stdDeviation="0.9"/></filter><clipPath id="ch2"><rect width="100" height="100"/></clipPath></defs>
<g filter="url(#bh2)">
<rect width="59.4" height="69.7" fill="#0b0b0c"/>
<path d="M29 3 C41 3 49 11 51 23 C53 35 53 45 57 57 L57 62 L3 62 C1 54 4 44 6 33 C8 15 17 3 29 3Z" fill="#4a2c1a"/>
<path d="M29 4 C38 4 46 10 48 18 C42 13 36 11 29 11 C21 11 15 14 11 22 C13 12 19 5 29 4Z" fill="#7b5034"/>
<path d="M6 35 C7 45 6 52 9 58 L14 52 C13 45 13 40 12 35Z M52 35 C51 45 52 52 50 58 L45 52 C46 45 46 40 47 35Z" fill="#7b5034"/>
<ellipse cx="29.5" cy="31" rx="13.5" ry="19" fill="#c9946f"/>
<path d="M21 47 L38 47 L41 62 L18 62Z" fill="#b9835f"/>
<path d="M0 56 C8 54 16 56 22 62 L30 69.7 L0 69.7Z M59.4 56 C51 54 43 56 37 62 L30 69.7 L59.4 69.7Z" fill="#3b3b40"/>
<path d="M18 58 Q30 66 41 58" fill="none" stroke="#1a1a1a" stroke-width="2"/>
<ellipse cx="24" cy="27" rx="2.6" ry="1.1" fill="#3a2418"/>
<ellipse cx="35" cy="27" rx="2.6" ry="1.1" fill="#3a2418"/>
<path d="M24 38 Q29.5 43 35 38 Z" fill="#f0e6e0"/></g></svg>
<svg style="left:326.1px;top:1658.3px" width="58.6" height="69.7" viewBox="0 0 58.6 69.7" preserveAspectRatio="none">
<defs><filter id="bt2" x="-5%" y="-5%" width="110%" height="110%"><feGaussianBlur stdDeviation="0.9"/></filter><clipPath id="ct2"><rect width="100" height="100"/></clipPath></defs>
<g filter="url(#bt2)">
<rect width="58.6" height="69.7" fill="#0a0a0c"/>
<path d="M8 24 C7 9 17 2 30 2 C44 2 53 9 52 24 C52 30 50 32 48 34 L12 34 C10 32 8 29 8 24Z" fill="#a2927c"/>
<path d="M11 20 C16 12 42 9 50 18 C46 7 38 4 30 4 C20 4 13 9 11 20Z" fill="#c4b49a"/>
<ellipse cx="30.4" cy="35" rx="18.5" ry="21" fill="#c9825c"/>
<path d="M13 22 C20 16 38 14 47 20 C40 13 22 13 13 22Z" fill="#b8a88e"/>
<path d="M0 58 C6 53 13 50 19 49 L30 69.7 L0 69.7Z M58.6 58 C53 53 46 50 42 49 L30 69.7 L58.6 69.7Z" fill="#1f3272"/>
<path d="M18.8 50 L45 50 L36 69.7 L26 69.7Z" fill="#e8e8ee"/>
<path d="M27.5 61 L37.5 61 L38 69.7 L27 69.7Z" fill="#c01020"/>
<ellipse cx="23" cy="30" rx="3.2" ry="1.3" fill="#5a3020"/>
<ellipse cx="37" cy="30" rx="3.2" ry="1.3" fill="#5a3020"/>
<path d="M24 45 Q30 43 36 45" stroke="#8a4a3a" stroke-width="1.2" fill="none"/></g></svg>
<div style="position:absolute;left:156.73000000000002px;top:1750.0px;width:89.86999999999998px;height:31.5px;background:#0c3a8e;"></div>
<div style="position:absolute;left:353.4px;top:1750.0px;width:114.94999999999999px;height:31.5px;background:#a50026;"></div>
<div style="position:absolute;left:66.86000000000001px;top:1784.5px;width:179.73999999999998px;height:31.5px;background:#0c3a8e;"></div>
<div style="position:absolute;left:353.4px;top:1784.5px;width:25.079999999999984px;height:31.5px;background:#a50026;"></div>
<div style="position:absolute;left:135.82999999999998px;top:1819.0px;width:110.77000000000001px;height:31.5px;background:#0c3a8e;"></div>
<div style="position:absolute;left:353.4px;top:1819.0px;width:94.05000000000001px;height:31.5px;background:#a50026;"></div>
<svg style="left:116px;top:1861.8px" width="12" height="12" viewBox="0 0 12 12"><path d="M6 1.5 A4.5 4.5 0 1 1 1.6 7" fill="none" stroke="#9ab" stroke-width="1.6"/><rect x="1" y="1" width="3" height="3" fill="#1c3f7a"/></svg>
<svg style="left:513.3px;top:1858.3px" width="19" height="19" viewBox="0 0 30 30">
<defs><radialGradient id="gs" cx="0.5" cy="0.5" r="0.75"><stop offset="0" stop-color="#0d5cc0"/><stop offset="0.7" stop-color="#0a4aa5"/><stop offset="1" stop-color="#062f78"/></radialGradient>
<radialGradient id="qs" cx="0.4" cy="0.35" r="0.7"><stop offset="0" stop-color="#5cc0ff"/><stop offset="0.6" stop-color="#1f86e0"/><stop offset="1" stop-color="#0b56b8"/></radialGradient></defs>
<rect x="0" y="0" width="30" height="30" rx="3.3" fill="url(#gs)"/>
<circle cx="17" cy="16" r="12.2" fill="url(#qs)" opacity="0.9"/>
<path d="M6 19 C8 25 14 28 20 27 C14 25 10 22 8.5 17 Z" fill="#0a4aa5" opacity="0.6"/>
<circle cx="17" cy="16.4" r="6.8" fill="#3a9ef0"/>
<circle cx="17" cy="16.4" r="6.6" fill="none" stroke="#fff" stroke-width="1.3"/>
<path d="M14.3 14.2 L17.6 12.2 L18.8 12.2 L18.8 20.6 L16.6 20.6 L16.6 15.2 L14.9 16 Z" fill="#fff"/>
</svg>
<div style="position:absolute;left:295.6px;top:1893.3999999999999px;width:8.8px;height:8.8px;border-radius:50%;background:#0b5aa2"></div>
<div style="position:absolute;left:309.7px;top:1894.7px;width:6.2px;height:6.2px;border-radius:50%;background:#808080"></div>
<div style="position:absolute;left:324.2px;top:1896.3px;width:3px;height:3px;border-radius:50%;background:#888"></div>
<div style="position:absolute;left:46.8px;top:1923.3px;width:505.59999999999997px;height:284.39999999999986px;background:#efefef;"></div>
<div style="position:absolute;left:159.2px;top:2014.2px;width:312.89px;height:30.0px;background:#0c3a8e;"></div>
<div style="position:absolute;left:159.2px;top:2046.9px;width:373.59999999999997px;height:30.0px;background:#a50026;"></div>
<div style="position:absolute;left:159.2px;top:2112px;width:140.09999999999997px;height:30px;background:#0c3a8e;"></div>
<div style="position:absolute;left:159.2px;top:2145.2px;width:84.06px;height:30.0px;background:#a50026;"></div>
<svg style="left:116px;top:2185.2px" width="12" height="12" viewBox="0 0 12 12"><path d="M6 1.5 A4.5 4.5 0 1 1 1.6 7" fill="none" stroke="#9ab" stroke-width="1.6"/><rect x="1" y="1" width="3" height="3" fill="#1c3f7a"/></svg>
<svg style="left:513.3px;top:2181.7px" width="19" height="19" viewBox="0 0 30 30">
<defs><radialGradient id="gs" cx="0.5" cy="0.5" r="0.75"><stop offset="0" stop-color="#0d5cc0"/><stop offset="0.7" stop-color="#0a4aa5"/><stop offset="1" stop-color="#062f78"/></radialGradient>
<radialGradient id="qs" cx="0.4" cy="0.35" r="0.7"><stop offset="0" stop-color="#5cc0ff"/><stop offset="0.6" stop-color="#1f86e0"/><stop offset="1" stop-color="#0b56b8"/></radialGradient></defs>
<rect x="0" y="0" width="30" height="30" rx="3.3" fill="url(#gs)"/>
<circle cx="17" cy="16" r="12.2" fill="url(#qs)" opacity="0.9"/>
<path d="M6 19 C8 25 14 28 20 27 C14 25 10 22 8.5 17 Z" fill="#0a4aa5" opacity="0.6"/>
<circle cx="17" cy="16.4" r="6.8" fill="#3a9ef0"/>
<circle cx="17" cy="16.4" r="6.6" fill="none" stroke="#fff" stroke-width="1.3"/>
<path d="M14.3 14.2 L17.6 12.2 L18.8 12.2 L18.8 20.6 L16.6 20.6 L16.6 15.2 L14.9 16 Z" fill="#fff"/>
</svg>
<div style="position:absolute;left:295.6px;top:2216.1px;width:8.8px;height:8.8px;border-radius:50%;background:#0b5aa2"></div>
<div style="position:absolute;left:309.7px;top:2217.4px;width:6.2px;height:6.2px;border-radius:50%;background:#808080"></div>
<div style="position:absolute;left:324.2px;top:2219.0px;width:3px;height:3px;border-radius:50%;background:#888"></div>
<div style="position:absolute;left:47px;top:2258px;width:81px;height:81px;background:#eeeeee"></div>
<span style="left:49.5px;top:2259.3px;font-size:3.2px;color:#333;font-weight:700;letter-spacing:-0.05px">US-Wahl 2024</span>
<span style="left:49.5px;top:2263.6px;font-size:4px;color:#333;font-weight:400;letter-spacing:-0.05px">Profil Donald Trump</span>
<div style="position:absolute;left:81.5px;top:2284.8px;width:44.5px;height:5.199999999999818px;background:#a50026"></div>
<div style="position:absolute;left:51px;top:2286.8px;width:15px;height:1.199999999999818px;background:#bbb"></div>
<div style="position:absolute;left:73px;top:2286.6px;width:5px;height:1.6000000000003638px;background:#666"></div>
<div style="position:absolute;left:81.5px;top:2291.55px;width:39.099999999999994px;height:5.199999999999818px;background:#a50026"></div>
<div style="position:absolute;left:51px;top:2293.55px;width:15px;height:1.199999999999818px;background:#bbb"></div>
<div style="position:absolute;left:73px;top:2293.35px;width:5px;height:1.6000000000003638px;background:#666"></div>
<div style="position:absolute;left:81.5px;top:2298.3px;width:36.7px;height:5.199999999999818px;background:#a50026"></div>
<div style="position:absolute;left:51px;top:2300.3px;width:15px;height:1.199999999999818px;background:#bbb"></div>
<div style="position:absolute;left:73px;top:2300.1px;width:5px;height:1.6000000000003638px;background:#666"></div>
<div style="position:absolute;left:81.5px;top:2305.05px;width:30.799999999999997px;height:5.199999999999818px;background:#a50026"></div>
<div style="position:absolute;left:51px;top:2307.05px;width:15px;height:1.199999999999818px;background:#bbb"></div>
<div style="position:absolute;left:73px;top:2306.85px;width:5px;height:1.6000000000003638px;background:#666"></div>
<div style="position:absolute;left:81.5px;top:2311.8px;width:28.599999999999994px;height:5.199999999999818px;background:#a50026"></div>
<div style="position:absolute;left:51px;top:2313.8px;width:15px;height:1.199999999999818px;background:#bbb"></div>
<div style="position:absolute;left:73px;top:2313.6px;width:5px;height:1.6000000000003638px;background:#666"></div>
<div style="position:absolute;left:51px;top:2332.5px;width:11px;height:1.199999999999818px;background:#7a9ac0"></div>
<div style="position:absolute;left:85px;top:2331.5px;width:19px;height:1.0px;background:#aaa"></div>
<div style="position:absolute;left:121px;top:2330.6px;width:5px;height:5px;border-radius:1px;background:#1a6ad0"></div>
<div style="position:absolute;left:47px;top:2350px;width:81px;height:81px;background:#eeeeee"></div>
<span style="left:49.5px;top:2351.3px;font-size:3.2px;color:#333;font-weight:700;letter-spacing:-0.05px">US-Wahl 2024</span>
<span style="left:49.5px;top:2355.8px;font-size:4px;color:#333;font-weight:400;letter-spacing:-0.05px">Überwiegend gute oder schlechte</span>
<span style="left:49.5px;top:2361px;font-size:4px;color:#333;font-weight:400;letter-spacing:-0.05px">Meinung von...</span>
<svg style="left:65.6px;top:2374.4px" width="16.6" height="19.2" viewBox="0 0 58.6 69.7" preserveAspectRatio="none"><rect width="58.6" height="69.7" fill="#0a0a0c"/><ellipse cx="30" cy="22" rx="21" ry="16" fill="#a89a86"/><ellipse cx="30.4" cy="36" rx="17" ry="20" fill="#c9825c"/><path d="M0 58 L19 49 L30 69.7 L0 69.7Z M58.6 58 L42 49 L30 69.7 L58.6 69.7Z" fill="#1f3272"/><path d="M19 50 L42 50 L34 69.7 L26 69.7Z" fill="#e8e8ee"/><rect x="27" y="60" width="8" height="10" fill="#c01020"/></svg>
<svg style="left:93.3px;top:2374.4px" width="16.7" height="19.2" viewBox="0 0 59.4 69.7" preserveAspectRatio="none"><rect width="59.4" height="69.7" fill="#0b0b0c"/><path d="M29 3 C45 3 55 15 56 35 L57 62 L3 62 L3 35 C4 15 14 3 29 3Z" fill="#5b3620"/><ellipse cx="29.5" cy="30" rx="13" ry="18.5" fill="#b88262"/><path d="M0 58 L22 60 L30 69.7 L0 69.7Z M59.4 58 L37 60 L30 69.7 L59.4 69.7Z" fill="#3b3b40"/></svg>
<div style="position:absolute;left:49.5px;top:2400px;width:26.5px;height:5.400000000000091px;background:#2e4a5e"></div>
<div style="position:absolute;left:51px;top:2407px;width:25px;height:5.5px;background:#2e4a5e"></div>
<div style="position:absolute;left:99.2px;top:2400px;width:25.599999999999994px;height:5.400000000000091px;background:#c4c4c4"></div>
<div style="position:absolute;left:99.2px;top:2407px;width:26.599999999999994px;height:5.5px;background:#c4c4c4"></div>
<div style="position:absolute;left:78px;top:2402px;width:4px;height:1.400000000000091px;background:#555"></div>
<div style="position:absolute;left:78px;top:2409px;width:4px;height:1.400000000000091px;background:#555"></div>
<div style="position:absolute;left:94px;top:2402px;width:4px;height:1.400000000000091px;background:#555"></div>
<div style="position:absolute;left:94px;top:2409px;width:4px;height:1.400000000000091px;background:#555"></div>
<div style="position:absolute;left:51px;top:2424.5px;width:11px;height:1.199999999999818px;background:#7a9ac0"></div>
<div style="position:absolute;left:85px;top:2423.5px;width:19px;height:1.0px;background:#aaa"></div>
<div style="position:absolute;left:121px;top:2422.6px;width:5px;height:5px;border-radius:1px;background:#1a6ad0"></div>
<div style="position:absolute;left:310px;top:2258px;width:81px;height:81px;background:#eeeeee"></div>
<span style="left:312.5px;top:2259.3px;font-size:3.2px;color:#333;font-weight:700;letter-spacing:-0.05px">US-Wahl 2024</span>
<span style="left:312.5px;top:2263.6px;font-size:4px;color:#333;font-weight:400;letter-spacing:-0.05px">Profilvergleich</span>
<svg style="left:322.5px;top:2270.8px" width="16.6" height="19.7" viewBox="0 0 59.4 69.7" preserveAspectRatio="none"><rect width="59.4" height="69.7" fill="#0b0b0c"/><path d="M29 3 C45 3 55 15 56 35 L57 62 L3 62 L3 35 C4 15 14 3 29 3Z" fill="#5b3620"/><ellipse cx="29.5" cy="30" rx="13" ry="18.5" fill="#b88262"/><path d="M0 58 L22 60 L30 69.7 L0 69.7Z M59.4 58 L37 60 L30 69.7 L59.4 69.7Z" fill="#3b3b40"/></svg>
<svg style="left:361.1px;top:2270.8px" width="17.1" height="19.7" viewBox="0 0 58.6 69.7" preserveAspectRatio="none"><rect width="58.6" height="69.7" fill="#0a0a0c"/><ellipse cx="30" cy="22" rx="21" ry="16" fill="#a89a86"/><ellipse cx="30.4" cy="36" rx="17" ry="20" fill="#c9825c"/><path d="M0 58 L19 49 L30 69.7 L0 69.7Z M58.6 58 L42 49 L30 69.7 L58.6 69.7Z" fill="#1f3272"/><path d="M19 50 L42 50 L34 69.7 L26 69.7Z" fill="#e8e8ee"/><rect x="27" y="60" width="8" height="10" fill="#c01020"/></svg>
<div style="position:absolute;left:311.8px;top:2296.5px;width:21.399999999999977px;height:5.0px;background:#0c3a8e"></div>
<div style="position:absolute;left:367px;top:2296.5px;width:13.600000000000023px;height:5.0px;background:#a50026"></div>
<div style="position:absolute;left:341px;top:2298.4px;width:18px;height:1.199999999999818px;background:#999"></div>
<div style="position:absolute;left:314.5px;top:2302.6px;width:18.69999999999999px;height:5.0px;background:#0c3a8e"></div>
<div style="position:absolute;left:367px;top:2302.6px;width:17.5px;height:5.0px;background:#a50026"></div>
<div style="position:absolute;left:341px;top:2304.5px;width:18px;height:1.199999999999818px;background:#999"></div>
<div style="position:absolute;left:316px;top:2308.7px;width:17.19999999999999px;height:5.0px;background:#0c3a8e"></div>
<div style="position:absolute;left:367px;top:2308.7px;width:14.5px;height:5.0px;background:#a50026"></div>
<div style="position:absolute;left:341px;top:2310.6px;width:18px;height:1.199999999999818px;background:#999"></div>
<div style="position:absolute;left:316.6px;top:2314.8px;width:16.599999999999966px;height:5.0px;background:#0c3a8e"></div>
<div style="position:absolute;left:367px;top:2314.8px;width:21.899999999999977px;height:5.0px;background:#a50026"></div>
<div style="position:absolute;left:341px;top:2316.7000000000003px;width:18px;height:1.199999999999818px;background:#999"></div>
<div style="position:absolute;left:316.6px;top:2320.9px;width:16.599999999999966px;height:5.0px;background:#0c3a8e"></div>
<div style="position:absolute;left:367px;top:2320.9px;width:21px;height:5.0px;background:#a50026"></div>
<div style="position:absolute;left:341px;top:2322.8px;width:18px;height:1.199999999999818px;background:#999"></div>
<div style="position:absolute;left:314px;top:2332.5px;width:11px;height:1.199999999999818px;background:#7a9ac0"></div>
<div style="position:absolute;left:348px;top:2331.5px;width:19px;height:1.0px;background:#aaa"></div>
<div style="position:absolute;left:384px;top:2330.6px;width:5px;height:5px;border-radius:1px;background:#1a6ad0"></div>
<div style="position:absolute;left:310px;top:2350px;width:81px;height:81px;background:#eeeeee"></div>
<span style="left:312.5px;top:2351.3px;font-size:3.2px;color:#333;font-weight:700;letter-spacing:-0.05px">US-Wahl 2024</span>
<span style="left:312.5px;top:2355.8px;font-size:4px;color:#333;font-weight:400;letter-spacing:-0.05px">Entwickelt sich das Land auf diesem</span>
<span style="left:312.5px;top:2360.8px;font-size:4px;color:#333;font-weight:400;letter-spacing:-0.05px">Gebiet in die richtige oder</span>
<span style="left:312.5px;top:2365.8px;font-size:4px;color:#333;font-weight:400;letter-spacing:-0.05px">die falsche Richtung?</span>
<div style="position:absolute;left:320px;top:2377.5px;width:10px;height:0.8000000000001819px;background:#aaa"></div>
<div style="position:absolute;left:373px;top:2377.5px;width:11px;height:0.8000000000001819px;background:#aaa"></div>
<div style="position:absolute;left:328px;top:2381.9px;width:2.8000000000000114px;height:5.199999999999818px;background:#2e4a5e"></div>
<div style="position:absolute;left:370px;top:2381.9px;width:18.899999999999977px;height:5.199999999999818px;background:#c4c4c4"></div>
<div style="position:absolute;left:341px;top:2383.9px;width:18px;height:1.199999999999818px;background:#999"></div>
<div style="position:absolute;left:325.2px;top:2388.0px;width:5.600000000000023px;height:5.199999999999818px;background:#2e4a5e"></div>
<div style="position:absolute;left:370px;top:2388.0px;width:18.19999999999999px;height:5.199999999999818px;background:#c4c4c4"></div>
<div style="position:absolute;left:341px;top:2390.0px;width:18px;height:1.199999999999818px;background:#999"></div>
<div style="position:absolute;left:326.5px;top:2394.1px;width:4.300000000000011px;height:5.199999999999818px;background:#2e4a5e"></div>
<div style="position:absolute;left:370px;top:2394.1px;width:16.5px;height:5.199999999999818px;background:#c4c4c4"></div>
<div style="position:absolute;left:341px;top:2396.1px;width:18px;height:1.199999999999818px;background:#999"></div>
<div style="position:absolute;left:323.7px;top:2400.2000000000003px;width:7.100000000000023px;height:5.199999999999818px;background:#2e4a5e"></div>
<div style="position:absolute;left:370px;top:2400.2000000000003px;width:15.300000000000011px;height:5.199999999999818px;background:#c4c4c4"></div>
<div style="position:absolute;left:341px;top:2402.2000000000003px;width:18px;height:1.199999999999818px;background:#999"></div>
<div style="position:absolute;left:325.5px;top:2406.3px;width:5.300000000000011px;height:5.199999999999818px;background:#2e4a5e"></div>
<div style="position:absolute;left:370px;top:2406.3px;width:14.199999999999989px;height:5.199999999999818px;background:#c4c4c4"></div>
<div style="position:absolute;left:341px;top:2408.3px;width:18px;height:1.199999999999818px;background:#999"></div>
<div style="position:absolute;left:314px;top:2424.5px;width:11px;height:1.199999999999818px;background:#7a9ac0"></div>
<div style="position:absolute;left:348px;top:2423.5px;width:19px;height:1.0px;background:#aaa"></div>
<div style="position:absolute;left:384px;top:2422.6px;width:5px;height:5px;border-radius:1px;background:#1a6ad0"></div>
<div style="position:absolute;left:138.0px;top:2263.8px;width:26.6px;height:8.5px;border-radius:2px;background:#0d4f94"></div>
<div style="position:absolute;left:401.0px;top:2263.8px;width:26.6px;height:8.5px;border-radius:2px;background:#0d4f94"></div>
<div style="position:absolute;left:138.0px;top:2355.8px;width:26.6px;height:8.5px;border-radius:2px;background:#0d4f94"></div>
<div style="position:absolute;left:401.0px;top:2355.8px;width:26.6px;height:8.5px;border-radius:2px;background:#0d4f94"></div>
<svg style="left:80px;top:2500px" width="140" height="140" viewBox="0 0 140 140"><path d="M68.30,5.50 A63.5,63.5 0 0 1 77.91,131.77 L74.23,107.75 A39.2,39.2 0 0 0 68.30,29.80 Z" fill="#d9212b"/><path d="M77.91,131.77 A63.5,63.5 0 0 1 42.07,126.83 L52.11,104.70 A39.2,39.2 0 0 0 74.23,107.75 Z" fill="#e3e3e3"/><path d="M42.07,126.83 A63.5,63.5 0 0 1 68.30,5.50 L68.30,29.80 A39.2,39.2 0 0 0 52.11,104.70 Z" fill="#0b40d3"/><line x1="68.30000000000001" y1="108.2" x2="68.30000000000001" y2="132.5" stroke="#333" stroke-width="1" stroke-dasharray="1.2 1.2"/></svg>
<svg style="left:270px;top:2520px" width="60" height="60" viewBox="0 0 60 60">
<circle cx="29.7" cy="29.7" r="23.9" fill="#fff" stroke="#0b40d3" stroke-width="6.8"/>
<path d="M22 19.6 L30.5 19.6 C37.5 19.6 40.5 24 40.5 29.7 C40.5 35.6 37.2 39.7 30.5 39.7 L22 39.7 Z M27.8 24.3 L27.8 35 L30 35 C33.3 35 34.6 33 34.6 29.6 C34.6 26.3 33.2 24.3 30 24.3 Z" fill="#0b40d3"/>
</svg>
<div style="position:absolute;left:451.7px;top:2527px;width:100.3px;height:44.7px;background:#dc1a31"></div>
<span style="left:462.3px;top:2534px;font-size:32px;font-weight:700;color:#fff;letter-spacing:-0.9px">GOP</span>
<svg style="left:531px;top:2550.5px" width="12" height="12" viewBox="0 0 12 12"><circle cx="6" cy="6" r="4.6" fill="#fff"/><path d="M3.3 7.6 C3.3 4.8 4.5 3.6 6 3.6 C7.6 3.6 8.7 4.8 8.7 7.6 Z" fill="#dc1a31"/></svg>
<svg style="left:385px;top:2522px" width="32" height="54" viewBox="0 0 32 54"><path d="M7.5 13 C7.5 7 11 4.5 16 4.5 C21.5 4.5 25 7.5 25 12.5 C25 17 22 19 19.5 21 C17 23 16 25 16 29 L16 33" fill="none" stroke="#d0d0d0" stroke-width="7.4" stroke-linecap="butt"/><circle cx="16" cy="45.5" r="5.2" fill="#d0d0d0"/></svg>
<div style="position:absolute;left:249.5px;top:2582.7px;width:302.5px;height:1.0px;background:#e8e8e8;"></div>
<div style="position:absolute;left:249.5px;top:2611px;width:302.5px;height:1px;background:#e8e8e8;"></div>
<div style="position:absolute;left:46.8px;top:2658.5px;width:505.2px;height:1.0px;background:#e8e8e8;"></div>
<div style="position:absolute;left:46.8px;top:2666.5px;width:26.60000000000001px;height:13.300000000000182px;background:#0d5a9e;"></div>
<div style="position:absolute;left:77.15px;top:2666.5px;width:26.599999999999994px;height:13.300000000000182px;background:#e2e2e2;"></div>
<div style="position:absolute;left:107.5px;top:2666.5px;width:26.599999999999994px;height:13.300000000000182px;background:#e2e2e2;"></div>
<div style="position:absolute;left:137.85000000000002px;top:2666.5px;width:26.599999999999994px;height:13.300000000000182px;background:#e2e2e2;"></div>
<div style="position:absolute;left:168.2px;top:2666.5px;width:26.599999999999994px;height:13.300000000000182px;background:#e2e2e2;"></div>
<div style="position:absolute;left:47.3px;top:3393.9px;width:504.99999999999994px;height:1.0px;background:#e6e6e6;"></div>
<div style="position:absolute;left:47.3px;top:3414.9px;width:504.99999999999994px;height:1.0px;background:#e6e6e6;"></div>
<div style="position:absolute;left:47.3px;top:3436.0px;width:504.99999999999994px;height:1.0px;background:#e6e6e6;"></div>
<div style="position:absolute;left:47.3px;top:3456.7px;width:504.99999999999994px;height:1.0px;background:#e6e6e6;"></div>
<div style="position:absolute;left:47.3px;top:3477.2px;width:504.99999999999994px;height:1.0px;background:#e6e6e6;"></div>
<svg style="left:538.5px;top:3401.1000000000004px" width="11" height="8" viewBox="0 0 11 8"><path d="M0.7 1.3 L5 5.5 L9.3 1.3" fill="none" stroke="#666" stroke-width="1"/></svg>
<svg style="left:538.5px;top:3421.9000000000005px" width="11" height="8" viewBox="0 0 11 8"><path d="M0.7 1.3 L5 5.5 L9.3 1.3" fill="none" stroke="#666" stroke-width="1"/></svg>
<svg style="left:538.5px;top:3442.7000000000003px" width="11" height="8" viewBox="0 0 11 8"><path d="M0.7 1.3 L5 5.5 L9.3 1.3" fill="none" stroke="#666" stroke-width="1"/></svg>
<svg style="left:538.5px;top:3463.5000000000005px" width="11" height="8" viewBox="0 0 11 8"><path d="M0.7 1.3 L5 5.5 L9.3 1.3" fill="none" stroke="#666" stroke-width="1"/></svg>
<svg style="left:533.6px;top:3619.3px" width="19" height="19" viewBox="0 0 19 19">
<circle cx="9.5" cy="9.5" r="7.3" fill="none" stroke="#333" stroke-width="2.6"/>
<path d="M7 6.8 L10.2 4.8 L11.6 4.8 L11.6 14.2 L9.3 14.2 L9.3 8 L7.6 9 Z" fill="#333"/>
</svg>
<span style="left:83.40px;top:12.68px;font-size:14.5px;color:#333;letter-spacing:0.143px;">tages</span>
<span class="k" style="left:271.80px;top:14.60px;font-size:10px;color:#c8184a;letter-spacing:-0.083px;transform:scaleX(0.9085);transform-origin:0 0;">Eilmeldung</span>
<span class="k" style="left:53.40px;top:44.70px;font-size:8px;color:#555;letter-spacing:-0.034px;transform:scaleX(0.9445);transform-origin:0 0;">Startseite</span>
<span class="k" style="left:99.00px;top:44.70px;font-size:8px;color:#555;letter-spacing:-0.065px;transform:scaleX(0.9135);transform-origin:0 0;">Ausland</span>
<span class="k" style="left:139.20px;top:44.70px;font-size:8px;color:#555;letter-spacing:-0.063px;transform:scaleX(0.9200);transform-origin:0 0;">US-Wahl 2024</span>
<span class="k" style="left:199.80px;top:44.70px;font-size:8px;color:#555;letter-spacing:-0.067px;transform:scaleX(0.9075);transform-origin:0 0;">US-Wahl 2024: Die Ergebnisse</span>
<span style="left:235.30px;top:68.90px;font-size:20px;color:#1d5fa3;letter-spacing:-0.130px;transform:scaleX(0.9387);transform-origin:0 0;">US-WAHL 2024</span>
<span class="k" style="left:135.60px;top:108.84px;font-size:8.3px;color:#333;letter-spacing:-0.022px;transform:scaleX(0.9644);transform-origin:0 0;">Startseite</span>
<span class="k" style="left:184.80px;top:108.84px;font-size:8.3px;color:#222;letter-spacing:-0.076px;transform:scaleX(0.9005);transform-origin:0 0;">Ergebnisse</span>
<span class="k" style="left:237.00px;top:108.84px;font-size:8.3px;color:#333;letter-spacing:-0.034px;transform:scaleX(0.9556);transform-origin:0 0;">Kandidaten</span>
<span class="k" style="left:292.00px;top:108.84px;font-size:8.3px;color:#333;letter-spacing:-0.052px;transform:scaleX(0.9428);transform-origin:0 0;">Themen</span>
<span class="k" style="left:335.60px;top:108.84px;font-size:8.3px;color:#333;letter-spacing:-0.023px;transform:scaleX(0.9703);transform-origin:0 0;">Vorwahlen</span>
<span class="k" style="left:388.30px;top:108.84px;font-size:8.3px;color:#333;letter-spacing:-0.061px;transform:scaleX(0.9305);transform-origin:0 0;">Wahl-ABC</span>
<span style="left:244.50px;top:159.86px;font-size:17.7px;color:#1d5fa3;letter-spacing:-0.077px;transform:scaleX(0.9628);transform-origin:0 0;">ERGEBNISSE</span>
<span class="k" style="left:132.20px;top:192.00px;font-size:10px;color:#333;letter-spacing:-0.031px;transform:scaleX(0.9635);transform-origin:0 0;">US-Wahl 2024 - So haben die einzelnen US-Bundesstaaten gewählt: Die</span>
<span class="k" style="left:132.20px;top:204.76px;font-size:10px;color:#333;letter-spacing:-0.021px;transform:scaleX(0.9756);transform-origin:0 0;">Ergebnisse der Präsidentschaftswahl und der Wahlen zum Senat und</span>
<span class="k" style="left:132.20px;top:217.52px;font-size:10px;color:#333;letter-spacing:-0.099px;transform:scaleX(0.8836);transform-origin:0 0;">Repräsentantenhaus in interaktiven Grafiken.</span>
<span style="left:183.50px;top:272.55px;font-size:19px;color:#1d5fa3;letter-spacing:-0.130px;transform:scaleX(0.9429);transform-origin:0 0;">PRÄSIDENTSCHAFTSWAHL</span>
<span class="k" style="left:242.70px;top:304.67px;font-size:8.5px;color:#444;letter-spacing:-0.049px;transform:scaleX(0.9317);transform-origin:0 0;">Mehrheit: 270 Stimmen, offen: 21</span>
<span class="k" style="left:49.50px;top:406.20px;font-size:8px;color:#444;letter-spacing:-0.070px;transform:scaleX(0.9021);transform-origin:0 0;">Kamala Harris</span>
<span class="k" style="left:505.50px;top:406.20px;font-size:8px;color:#444;letter-spacing:-0.070px;transform:scaleX(0.9087);transform-origin:0 0;">Donald Trump</span>
<span class="k" style="left:49.50px;top:424.60px;font-size:10px;color:#fff;letter-spacing:-0.051px;transform:scaleX(0.9495);transform-origin:0 0;">223</span>
<span class="k" style="left:534.00px;top:424.60px;font-size:10px;color:#fff;letter-spacing:-0.056px;transform:scaleX(0.9443);transform-origin:0 0;">294</span>
<span class="k" style="left:460.40px;top:453.20px;font-size:8px;color:#444;letter-spacing:-0.118px;transform:scaleX(0.8357);transform-origin:0 0;">Quelle: NEP/Edison via Reuters</span>
<span style="left:132.60px;top:493.36px;font-size:12.4px;color:#2a6aae;letter-spacing:0.035px;">Ergebnisse in den Bundesstaaten</span>
<span class="k" style="left:132.80px;top:515.90px;font-size:10px;color:#333;letter-spacing:-0.009px;transform:scaleX(0.9877);transform-origin:0 0;">Die Präsidentschaftswahl entscheidet sich letztlich im Electoral College, in</span>
<span class="k" style="left:132.80px;top:528.66px;font-size:10px;color:#333;letter-spacing:-0.019px;transform:scaleX(0.9764);transform-origin:0 0;">das die Bundesstaaten abhängig von ihrer Bevölkerungszahl unterschiedlich</span>
<span class="k" style="left:132.80px;top:541.42px;font-size:10px;color:#333;transform:scaleX(0.9939);transform-origin:0 0;">viele Wahlleute entsenden dürfen. Die Präsidentschaftswahl ist damit</span>
<span class="k" style="left:132.80px;top:554.18px;font-size:10px;color:#333;letter-spacing:-0.018px;transform:scaleX(0.9788);transform-origin:0 0;">letztlich das Ergebnis einer Summe von Einzelwahlen in den Bundesstaaten.</span>
<span class="k" style="left:132.80px;top:566.94px;font-size:10px;color:#333;letter-spacing:-0.122px;transform:scaleX(0.8593);transform-origin:0 0;">Die Ergebnisse in den Bundesstaaten im Detail.</span>
<span style="left:47.60px;top:595.66px;font-size:12.4px;font-weight:700;color:#1a5a98;letter-spacing:-0.132px;transform:scaleX(0.8872);transform-origin:0 0;">Präsidentschaftswahl 2024</span>
<span class="k" style="left:131.30px;top:892.40px;font-size:8px;color:#444;letter-spacing:-0.024px;transform:scaleX(0.9640);transform-origin:0 0;">Noch nicht ausgezählt</span>
<span class="k" style="left:225.00px;top:892.40px;font-size:8px;color:#444;letter-spacing:-0.011px;transform:scaleX(0.9834);transform-origin:0 0;">Auszählung läuft</span>
<span class="k" style="left:300.00px;top:892.40px;font-size:8px;color:#444;letter-spacing:-0.009px;transform:scaleX(0.9866);transform-origin:0 0;">Kopf-an-Kopf</span>
<span class="k" style="left:365.00px;top:892.40px;font-size:8px;color:#444;letter-spacing:-0.020px;transform:scaleX(0.9716);transform-origin:0 0;">Kamala Harris</span>
<span class="k" style="left:431.30px;top:892.40px;font-size:8px;color:#444;letter-spacing:-0.033px;transform:scaleX(0.9567);transform-origin:0 0;">Donald Trump</span>
<span class="k" style="left:47.80px;top:911.83px;font-size:7.5px;color:#444;letter-spacing:-0.082px;transform:scaleX(0.8762);transform-origin:0 0;">Quelle: NEP/Edison via Reuters</span>
<span style="left:132.80px;top:951.36px;font-size:12.4px;color:#2a6aae;letter-spacing:-0.053px;transform:scaleX(0.9523);transform-origin:0 0;">Ergebnisse nach Größe der Bundesstaaten</span>
<span class="k" style="left:132.80px;top:974.10px;font-size:10px;color:#333;letter-spacing:-0.010px;transform:scaleX(0.9875);transform-origin:0 0;">Diese Darstellung veranschaulicht die unterschiedliche Bedeutung der</span>
<span class="k" style="left:132.80px;top:986.86px;font-size:10px;color:#333;letter-spacing:-0.018px;transform:scaleX(0.9781);transform-origin:0 0;">Bundesstaaten für den Wahlausgang. Größere Kreise stehen für eine höhere</span>
<span class="k" style="left:132.80px;top:999.62px;font-size:10px;color:#333;letter-spacing:-0.060px;transform:scaleX(0.9267);transform-origin:0 0;">Zahl von Wahlleuten, die die Bundesstaaten in das Electoral College</span>
<span class="k" style="left:132.80px;top:1012.38px;font-size:10px;color:#333;letter-spacing:-0.022px;transform:scaleX(0.9740);transform-origin:0 0;">entsenden. In den meisten Bundesstaaten gehen alle Stimmen der Wahlleute</span>
<span class="k" style="left:132.80px;top:1025.14px;font-size:10px;color:#333;letter-spacing:-0.007px;transform:scaleX(0.9915);transform-origin:0 0;">an den Präsidentschaftskandidaten oder die Präsidentschaftskandidatin mit</span>
<span class="k" style="left:132.80px;top:1037.90px;font-size:10px;color:#333;letter-spacing:-0.010px;transform:scaleX(0.9889);transform-origin:0 0;">den meisten Stimmen.</span>
<span style="left:47.60px;top:1065.96px;font-size:12.4px;font-weight:700;color:#1a5a98;letter-spacing:-0.132px;transform:scaleX(0.8872);transform-origin:0 0;">Präsidentschaftswahl 2024</span>
<span class="k" style="left:131.30px;top:1412.40px;font-size:8px;color:#444;letter-spacing:-0.024px;transform:scaleX(0.9640);transform-origin:0 0;">Noch nicht ausgezählt</span>
<span class="k" style="left:225.00px;top:1412.40px;font-size:8px;color:#444;letter-spacing:-0.011px;transform:scaleX(0.9834);transform-origin:0 0;">Auszählung läuft</span>
<span class="k" style="left:300.00px;top:1412.40px;font-size:8px;color:#444;letter-spacing:-0.009px;transform:scaleX(0.9866);transform-origin:0 0;">Kopf-an-Kopf</span>
<span class="k" style="left:365.00px;top:1412.40px;font-size:8px;color:#444;letter-spacing:-0.020px;transform:scaleX(0.9716);transform-origin:0 0;">Kamala Harris</span>
<span class="k" style="left:431.30px;top:1412.40px;font-size:8px;color:#444;letter-spacing:-0.033px;transform:scaleX(0.9567);transform-origin:0 0;">Donald Trump</span>
<span class="k" style="left:47.80px;top:1431.83px;font-size:7.5px;color:#444;letter-spacing:-0.082px;transform:scaleX(0.8762);transform-origin:0 0;">Quelle: NEP/Edison via Reuters</span>
<span style="left:132.80px;top:1478.46px;font-size:12.4px;color:#2a6aae;">Umfragen zu Gründen des Wahlergebnisses</span>
<span class="k" style="left:132.80px;top:1501.80px;font-size:10px;color:#333;letter-spacing:-0.079px;transform:scaleX(0.9086);transform-origin:0 0;">In Befragungen vor und nach der Wahl haben US-Forschungsinstitute die</span>
<span class="k" style="left:132.80px;top:1514.56px;font-size:10px;color:#333;letter-spacing:-0.068px;transform:scaleX(0.9232);transform-origin:0 0;">Gründe für das Abschneiden von Donald Trump und Kamala Harris</span>
<span class="k" style="left:132.80px;top:1527.32px;font-size:10px;color:#333;letter-spacing:-0.047px;transform:scaleX(0.9454);transform-origin:0 0;">untersucht und auch nach den Gründen für die Wahlentscheidung und die</span>
<span class="k" style="left:132.80px;top:1540.08px;font-size:10px;color:#333;letter-spacing:-0.013px;transform:scaleX(0.9841);transform-origin:0 0;">Stimmung im Land gefragt. Die Ergebnisse liefern wichtige Anhaltspunkte zu</span>
<span class="k" style="left:132.80px;top:1552.84px;font-size:10px;color:#333;letter-spacing:-0.079px;transform:scaleX(0.9114);transform-origin:0 0;">den Ursachen des Ergebnisses und zum Wahlverhalten der verschiedenen</span>
<span class="k" style="left:132.80px;top:1565.60px;font-size:10px;color:#333;letter-spacing:-0.014px;transform:scaleX(0.9840);transform-origin:0 0;">Bevölkerungsgruppen.</span>
<span style="left:67.30px;top:1612.78px;font-size:12.5px;font-weight:700;color:#333;letter-spacing:-0.009px;transform:scaleX(0.9927);transform-origin:0 0;">US-Wahl 2024</span>
<span style="left:67.30px;top:1632.69px;font-size:15.3px;color:#333;letter-spacing:0.126px;">Wahlverhalten in Bevölkerungsgruppen</span>
<span class="k" style="left:253.00px;top:1734.62px;font-size:7.5px;color:#444;letter-spacing:-0.013px;transform:scaleX(0.9787);transform-origin:0 0;">Harris</span>
<span class="k" style="left:326.50px;top:1734.62px;font-size:7.5px;color:#444;letter-spacing:0.082px;">Trump</span>
<span style="left:256.50px;top:1759.85px;font-size:11px;font-weight:700;color:#333;letter-spacing:-0.042px;transform:scaleX(0.9617);transform-origin:0 0;">43</span>
<span style="left:331.20px;top:1759.85px;font-size:11px;font-weight:700;color:#333;letter-spacing:-0.050px;transform:scaleX(0.9547);transform-origin:0 0;">55</span>
<span class="k" style="left:288.22px;top:1761.70px;font-size:8px;color:#333;">Weiße</span>
<span style="left:256.50px;top:1794.35px;font-size:11px;font-weight:700;color:#333;letter-spacing:-0.042px;transform:scaleX(0.9617);transform-origin:0 0;">86</span>
<span style="left:331.20px;top:1794.35px;font-size:11px;font-weight:700;color:#333;letter-spacing:-0.050px;transform:scaleX(0.9547);transform-origin:0 0;">12</span>
<span class="k" style="left:282.14px;top:1796.20px;font-size:8px;color:#333;">Schwarze</span>
<span style="left:256.50px;top:1828.85px;font-size:11px;font-weight:700;color:#333;letter-spacing:-0.042px;transform:scaleX(0.9617);transform-origin:0 0;">53</span>
<span style="left:331.20px;top:1828.85px;font-size:11px;font-weight:700;color:#333;letter-spacing:-0.050px;transform:scaleX(0.9547);transform-origin:0 0;">45</span>
<span class="k" style="left:282.36px;top:1830.70px;font-size:8px;color:#333;">Hispanics</span>
<span style="left:66.50px;top:1863.92px;font-size:7.5px;font-weight:700;color:#1c3f7a;letter-spacing:-0.089px;transform:scaleX(0.8677);transform-origin:0 0;">infratest dimap</span>
<span class="k" style="left:266.00px;top:1864.35px;font-size:7px;color:#444;letter-spacing:-0.033px;transform:scaleX(0.9446);transform-origin:0 0;">Stand: 06.11.2024, 06:35 Uhr</span>
<span class="k" style="left:386.00px;top:1864.35px;font-size:7px;color:#444;letter-spacing:-0.050px;transform:scaleX(0.9170);transform-origin:0 0;">Quelle: NEP/Edison via Reuters</span>
<span style="left:67.30px;top:1936.58px;font-size:12.5px;font-weight:700;color:#333;letter-spacing:-0.009px;transform:scaleX(0.9927);transform-origin:0 0;">US-Wahl 2024</span>
<span style="left:67.30px;top:1955.29px;font-size:15.3px;color:#333;letter-spacing:0.052px;">Wahlentscheidung erfolgte vor allem aus...</span>
<span class="k" style="left:71.90px;top:2000.60px;font-size:9.3px;color:#333;letter-spacing:-0.024px;transform:scaleX(0.9722);transform-origin:0 0;">Überzeugung von meinem Kandidaten</span>
<span class="k" style="left:71.90px;top:2098.59px;font-size:9.3px;color:#333;letter-spacing:-0.026px;transform:scaleX(0.9685);transform-origin:0 0;">Ablehnung des anderen Kandidaten</span>
<span class="k" style="left:71.90px;top:2025.40px;font-size:8px;color:#333;letter-spacing:-0.018px;transform:scaleX(0.9733);transform-origin:0 0;">Harris-Wähler</span>
<span style="left:137.60px;top:2023.51px;font-size:10.7px;font-weight:700;color:#333;letter-spacing:-0.037px;transform:scaleX(0.9648);transform-origin:0 0;">67</span>
<span class="k" style="left:71.90px;top:2058.10px;font-size:8px;color:#333;letter-spacing:-0.049px;transform:scaleX(0.9356);transform-origin:0 0;">Trump-Wähler</span>
<span style="left:137.60px;top:2056.21px;font-size:10.7px;font-weight:700;color:#333;letter-spacing:-0.037px;transform:scaleX(0.9648);transform-origin:0 0;">80</span>
<span class="k" style="left:71.90px;top:2123.20px;font-size:8px;color:#333;letter-spacing:-0.018px;transform:scaleX(0.9733);transform-origin:0 0;">Harris-Wähler</span>
<span style="left:137.60px;top:2121.31px;font-size:10.7px;font-weight:700;color:#333;letter-spacing:-0.037px;transform:scaleX(0.9648);transform-origin:0 0;">30</span>
<span class="k" style="left:71.90px;top:2156.40px;font-size:8px;color:#333;letter-spacing:-0.049px;transform:scaleX(0.9356);transform-origin:0 0;">Trump-Wähler</span>
<span style="left:137.60px;top:2154.51px;font-size:10.7px;font-weight:700;color:#333;letter-spacing:-0.037px;transform:scaleX(0.9648);transform-origin:0 0;">18</span>
<span style="left:66.50px;top:2187.32px;font-size:7.5px;font-weight:700;color:#1c3f7a;letter-spacing:-0.089px;transform:scaleX(0.8677);transform-origin:0 0;">infratest dimap</span>
<span class="k" style="left:266.00px;top:2187.75px;font-size:7px;color:#444;letter-spacing:-0.033px;transform:scaleX(0.9446);transform-origin:0 0;">Stand: 06.11.2024, 06:35 Uhr</span>
<span class="k" style="left:386.00px;top:2187.75px;font-size:7px;color:#444;letter-spacing:-0.050px;transform:scaleX(0.9170);transform-origin:0 0;">Quelle: NEP/Edison via Reuters</span>
<span style="left:141.50px;top:2265.50px;font-size:6px;font-weight:700;color:#fff;letter-spacing:-0.053px;transform:scaleX(0.9217);transform-origin:0 0;">BILDER</span>
<span class="k" style="left:138.30px;top:2277.16px;font-size:8.4px;color:#444;letter-spacing:-0.016px;transform:scaleX(0.9740);transform-origin:0 0;">Infografik</span>
<span class="k" style="left:138.30px;top:2288.55px;font-size:11px;color:#1e64a8;letter-spacing:0.265px;">Wie die USA auf Trump</span>
<span class="k" style="left:138.30px;top:2302.45px;font-size:11px;color:#1e64a8;letter-spacing:0.433px;">blicken und wer ihn wählte</span>
<span style="left:404.50px;top:2265.50px;font-size:6px;font-weight:700;color:#fff;letter-spacing:-0.053px;transform:scaleX(0.9217);transform-origin:0 0;">BILDER</span>
<span class="k" style="left:401.30px;top:2277.16px;font-size:8.4px;color:#444;letter-spacing:-0.016px;transform:scaleX(0.9740);transform-origin:0 0;">Infografik</span>
<span class="k" style="left:401.30px;top:2288.55px;font-size:11px;color:#1e64a8;letter-spacing:0.237px;">Wie die USA auf Harris</span>
<span class="k" style="left:401.30px;top:2302.45px;font-size:11px;color:#1e64a8;letter-spacing:0.357px;">blicken und wer sie wählte</span>
<span style="left:141.50px;top:2357.50px;font-size:6px;font-weight:700;color:#fff;letter-spacing:-0.053px;transform:scaleX(0.9217);transform-origin:0 0;">BILDER</span>
<span class="k" style="left:138.30px;top:2369.16px;font-size:8.4px;color:#444;letter-spacing:-0.016px;transform:scaleX(0.9740);transform-origin:0 0;">Infografik</span>
<span class="k" style="left:138.30px;top:2380.55px;font-size:11px;color:#1e64a8;letter-spacing:0.368px;">Wie Trump und Harris im</span>
<span class="k" style="left:138.30px;top:2394.45px;font-size:11px;color:#1e64a8;letter-spacing:0.398px;">Vergleich bewertet werden</span>
<span style="left:404.50px;top:2357.50px;font-size:6px;font-weight:700;color:#fff;letter-spacing:-0.053px;transform:scaleX(0.9217);transform-origin:0 0;">BILDER</span>
<span class="k" style="left:401.30px;top:2369.16px;font-size:8.4px;color:#444;letter-spacing:-0.016px;transform:scaleX(0.9740);transform-origin:0 0;">Infografik</span>
<span class="k" style="left:401.30px;top:2380.55px;font-size:11px;color:#1e64a8;letter-spacing:0.230px;">Was die USA bewegt und</span>
<span class="k" style="left:401.30px;top:2394.45px;font-size:11px;color:#1e64a8;letter-spacing:0.462px;">die Stimmung prägt</span>
<span style="left:133.40px;top:2474.88px;font-size:18.5px;color:#1d5fa3;letter-spacing:-0.086px;transform:scaleX(0.9604);transform-origin:0 0;">WAHL DES REPRÄSENTANTENHAUSES</span>
<span style="left:126.51px;top:2558.71px;font-size:25.4px;color:#333;">435</span>
<span class="k" style="left:131.96px;top:2643.28px;font-size:8.5px;color:#444;">Mehrheit</span>
<span style="left:283.31px;top:2587.90px;font-size:20px;color:#333;">188</span>
<span class="k" style="left:278.21px;top:2615.90px;font-size:8px;color:#333;">Demokraten</span>
<span style="left:389.38px;top:2587.90px;font-size:20px;color:#333;">40</span>
<span class="k" style="left:390.79px;top:2615.90px;font-size:8px;color:#333;">Offen</span>
<span style="left:484.91px;top:2587.90px;font-size:20px;color:#333;">207</span>
<span class="k" style="left:478.03px;top:2615.90px;font-size:8px;color:#333;">Republikaner</span>
<span class="k" style="left:50.64px;top:2669.28px;font-size:8.5px;color:#fff;">2024</span>
<span class="k" style="left:80.99px;top:2669.28px;font-size:8.5px;color:#444;">2022</span>
<span class="k" style="left:111.34px;top:2669.28px;font-size:8.5px;color:#444;">2020</span>
<span class="k" style="left:141.69px;top:2669.28px;font-size:8.5px;color:#444;">2018</span>
<span class="k" style="left:172.04px;top:2669.28px;font-size:8.5px;color:#444;">2016</span>
<span class="k" style="left:460.20px;top:2669.62px;font-size:7.5px;color:#444;letter-spacing:-0.076px;transform:scaleX(0.8843);transform-origin:0 0;">Quelle: NEP/Edison via Reuters</span>
<span style="left:218.50px;top:2725.78px;font-size:18.5px;color:#1d5fa3;letter-spacing:-0.103px;transform:scaleX(0.9504);transform-origin:0 0;">WAHL DES SENATS</span>
<span style="left:132.80px;top:2919.16px;font-size:12.4px;color:#2a6aae;letter-spacing:-0.110px;transform:scaleX(0.9000);transform-origin:0 0;">Ergebnisse der Senatswahl in den Bundesstaaten</span>
<span class="k" style="left:132.80px;top:2942.80px;font-size:10px;color:#333;letter-spacing:-0.026px;transform:scaleX(0.9669);transform-origin:0 0;">Etwa ein Drittel der 100 Senatssitze wird alle zwei Jahre neu gewählt. Jeder</span>
<span class="k" style="left:132.80px;top:2955.56px;font-size:10px;color:#333;letter-spacing:-0.074px;transform:scaleX(0.9144);transform-origin:0 0;">Bundesstaat entsendet zwei Senatorinnen oder Senatoren in diese</span>
<span class="k" style="left:132.80px;top:2968.32px;font-size:10px;color:#333;letter-spacing:-0.061px;transform:scaleX(0.9281);transform-origin:0 0;">Kongresskammer. Die Mehrheitsverhältnisse im Senat spielen für die</span>
<span class="k" style="left:132.80px;top:2981.08px;font-size:10px;color:#333;letter-spacing:-0.047px;transform:scaleX(0.9407);transform-origin:0 0;">jeweilige Präsidentschaft eine große Rolle bei vielen</span>
<span class="k" style="left:132.80px;top:2993.84px;font-size:10px;color:#333;letter-spacing:-0.061px;transform:scaleX(0.9315);transform-origin:0 0;">Gesetzgebungsvorhaben. Wie sehen die Ergebnisse der Wahlen um die</span>
<span class="k" style="left:132.80px;top:3006.60px;font-size:10px;color:#333;letter-spacing:-0.032px;transform:scaleX(0.9622);transform-origin:0 0;">Senatssitze 2024 in den Bundesstaaten aus?</span>
<span style="left:195.10px;top:3198.78px;font-size:18.5px;color:#1d5fa3;letter-spacing:-0.036px;transform:scaleX(0.9822);transform-origin:0 0;">WAHLEN IM RÜCKBLICK</span>
<span style="left:57.20px;top:3401.08px;font-size:8.5px;font-weight:700;color:#333;letter-spacing:-0.059px;transform:scaleX(0.9250);transform-origin:0 0;">Service</span>
<span style="left:57.20px;top:3421.88px;font-size:8.5px;font-weight:700;color:#333;letter-spacing:-0.036px;transform:scaleX(0.9558);transform-origin:0 0;">tagesschau.de</span>
<span style="left:57.20px;top:3442.68px;font-size:8.5px;font-weight:700;color:#333;letter-spacing:-0.036px;transform:scaleX(0.9592);transform-origin:0 0;">ARD Angebote</span>
<span style="left:57.20px;top:3463.48px;font-size:8.5px;font-weight:700;color:#333;letter-spacing:-0.014px;transform:scaleX(0.9825);transform-origin:0 0;">Rundfunkanstalten</span>
<span class="k" style="left:58.60px;top:3489.11px;font-size:9.4px;color:#333;letter-spacing:-0.053px;transform:scaleX(0.9434);transform-origin:0 0;">Impressum</span>
<span class="k" style="left:58.60px;top:3510.91px;font-size:9.4px;color:#333;letter-spacing:-0.076px;transform:scaleX(0.9051);transform-origin:0 0;">So erreichen Sie uns</span>
<span class="k" style="left:58.60px;top:3532.71px;font-size:9.4px;color:#333;letter-spacing:-0.034px;transform:scaleX(0.9588);transform-origin:0 0;">Datenschutzerklärung</span>
<span class="k" style="left:58.60px;top:3554.51px;font-size:9.4px;color:#333;letter-spacing:-0.042px;transform:scaleX(0.9446);transform-origin:0 0;">Bildrechte</span>
<span class="k" style="left:468.70px;top:3627.05px;font-size:7px;color:#333;letter-spacing:-0.022px;transform:scaleX(0.9566);transform-origin:0 0;letter-spacing:-0.3px">Wir sind deins.</span>
<span style="left:510.00px;top:3622.75px;font-size:15px;font-weight:700;color:#333;letter-spacing:-0.482px;transform:scaleX(0.7728);transform-origin:0 0;">ARD</span>
<span class="k" style="left:47.40px;top:3650.28px;font-size:6.5px;color:#777;letter-spacing:-0.043px;transform:scaleX(0.9225);transform-origin:0 0;">© ARD-aktuell / tagesschau.de</span>
</body></html>
